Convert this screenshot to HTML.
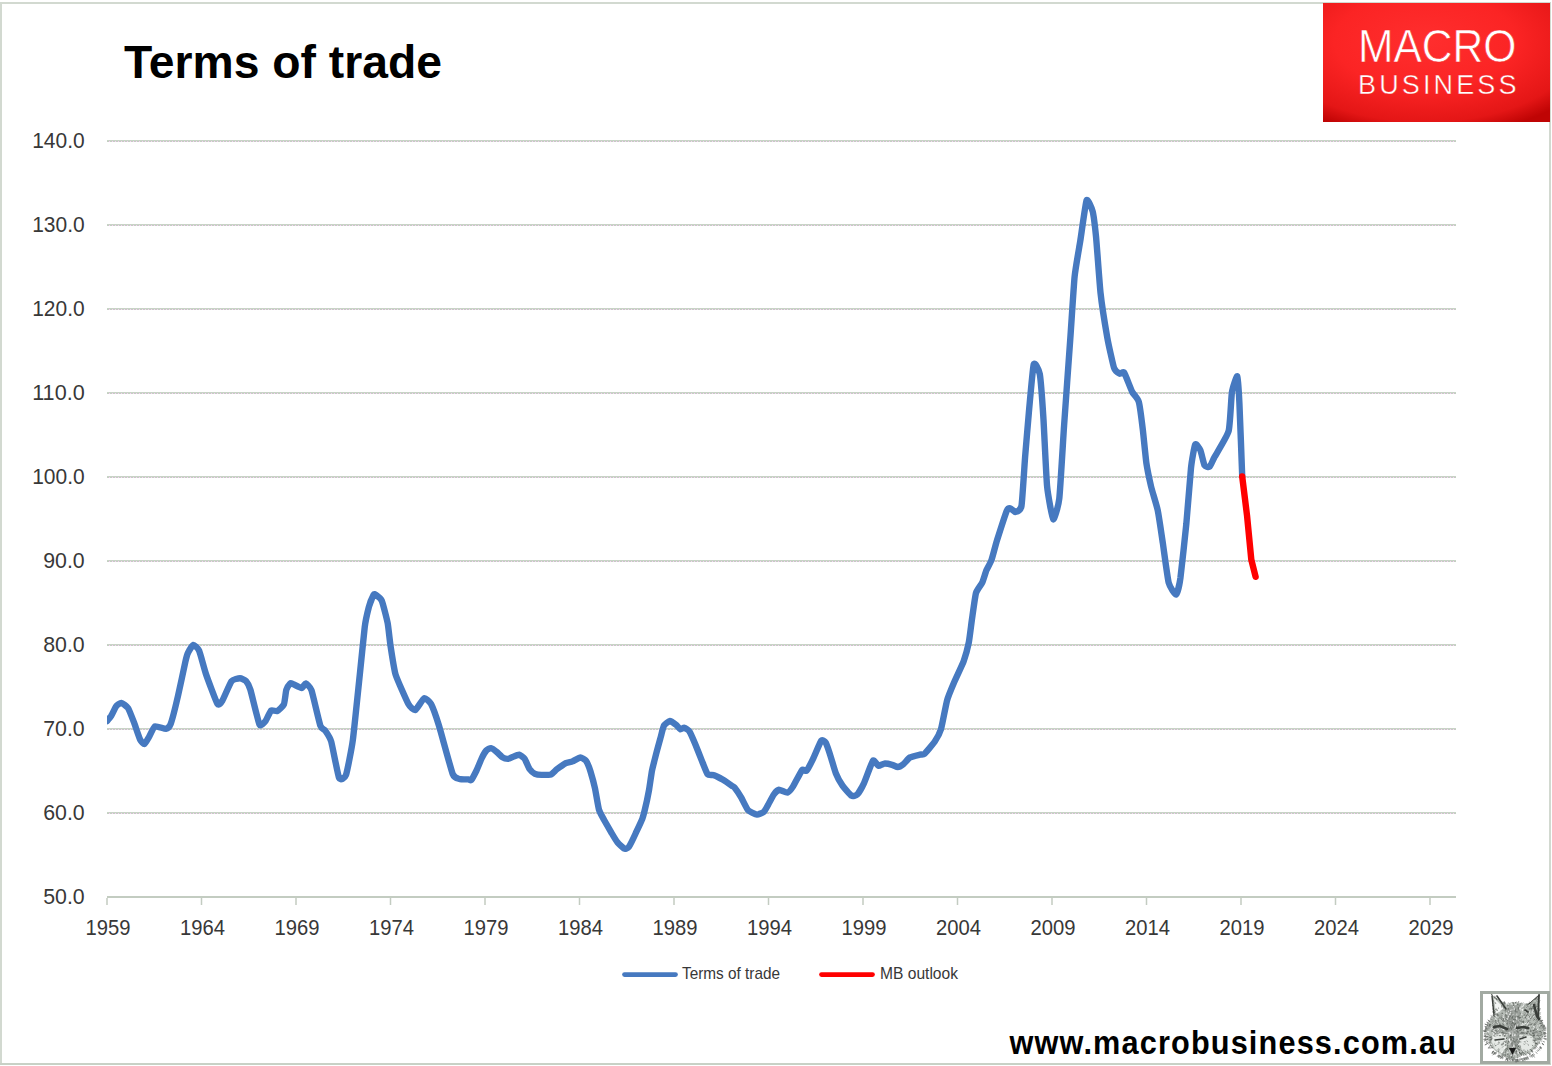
<!DOCTYPE html>
<html><head><meta charset="utf-8"><style>
html,body{margin:0;padding:0;background:#fff;}
svg{display:block;}
.ax{font-family:"Liberation Sans",sans-serif;font-size:22px;fill:#383838;}
.lg{font-family:"Liberation Sans",sans-serif;font-size:17px;fill:#383838;}
.title{font-family:"Liberation Sans",sans-serif;font-size:47px;font-weight:bold;fill:#000;}
.foot{font-family:"Liberation Sans",sans-serif;font-size:33px;font-weight:bold;fill:#000;}
.logo{font-family:"Liberation Sans",sans-serif;fill:#fff;}
</style></head><body>
<svg width="1552" height="1066" viewBox="0 0 1552 1066">
<g shape-rendering="crispEdges"><rect x="0" y="2" width="1551" height="2" fill="#d2d9d0"/><rect x="0" y="2" width="2" height="1063" fill="#d2d9d0"/><rect x="1549" y="2" width="2" height="1063" fill="#d2d9d0"/><rect x="0" y="1063" width="1551" height="2" fill="#c8d1c6"/></g>
<defs><pattern id="gp" x="1" y="0" width="3" height="1" patternUnits="userSpaceOnUse"><rect x="0" y="0" width="1" height="1" fill="#f7d0f5"/><rect x="1" y="0" width="2" height="1" fill="#c4cfc2"/></pattern></defs>
<rect x="107" y="140" width="1349" height="1" fill="#c9d3c7" shape-rendering="crispEdges"/>
<rect x="107" y="141" width="1349" height="1" fill="url(#gp)" shape-rendering="crispEdges"/>
<rect x="107" y="224" width="1349" height="1" fill="#c9d3c7" shape-rendering="crispEdges"/>
<rect x="107" y="225" width="1349" height="1" fill="url(#gp)" shape-rendering="crispEdges"/>
<rect x="107" y="308" width="1349" height="1" fill="#c9d3c7" shape-rendering="crispEdges"/>
<rect x="107" y="309" width="1349" height="1" fill="url(#gp)" shape-rendering="crispEdges"/>
<rect x="107" y="392" width="1349" height="1" fill="#c9d3c7" shape-rendering="crispEdges"/>
<rect x="107" y="393" width="1349" height="1" fill="url(#gp)" shape-rendering="crispEdges"/>
<rect x="107" y="476" width="1349" height="1" fill="#c9d3c7" shape-rendering="crispEdges"/>
<rect x="107" y="477" width="1349" height="1" fill="url(#gp)" shape-rendering="crispEdges"/>
<rect x="107" y="560" width="1349" height="1" fill="#c9d3c7" shape-rendering="crispEdges"/>
<rect x="107" y="561" width="1349" height="1" fill="url(#gp)" shape-rendering="crispEdges"/>
<rect x="107" y="644" width="1349" height="1" fill="#c9d3c7" shape-rendering="crispEdges"/>
<rect x="107" y="645" width="1349" height="1" fill="url(#gp)" shape-rendering="crispEdges"/>
<rect x="107" y="728" width="1349" height="1" fill="#c9d3c7" shape-rendering="crispEdges"/>
<rect x="107" y="729" width="1349" height="1" fill="url(#gp)" shape-rendering="crispEdges"/>
<rect x="107" y="812" width="1349" height="1" fill="#c9d3c7" shape-rendering="crispEdges"/>
<rect x="107" y="813" width="1349" height="1" fill="url(#gp)" shape-rendering="crispEdges"/>
<rect x="107" y="896" width="1349" height="2" fill="#c3ccc1"/>
<rect x="106.25" y="898" width="1.5" height="7" fill="#c3ccc1"/>
<rect x="200.75" y="898" width="1.5" height="7" fill="#c3ccc1"/>
<rect x="295.25" y="898" width="1.5" height="7" fill="#c3ccc1"/>
<rect x="389.75" y="898" width="1.5" height="7" fill="#c3ccc1"/>
<rect x="484.25" y="898" width="1.5" height="7" fill="#c3ccc1"/>
<rect x="578.75" y="898" width="1.5" height="7" fill="#c3ccc1"/>
<rect x="673.25" y="898" width="1.5" height="7" fill="#c3ccc1"/>
<rect x="767.75" y="898" width="1.5" height="7" fill="#c3ccc1"/>
<rect x="862.25" y="898" width="1.5" height="7" fill="#c3ccc1"/>
<rect x="956.75" y="898" width="1.5" height="7" fill="#c3ccc1"/>
<rect x="1051.25" y="898" width="1.5" height="7" fill="#c3ccc1"/>
<rect x="1145.75" y="898" width="1.5" height="7" fill="#c3ccc1"/>
<rect x="1240.25" y="898" width="1.5" height="7" fill="#c3ccc1"/>
<rect x="1334.75" y="898" width="1.5" height="7" fill="#c3ccc1"/>
<rect x="1429.25" y="898" width="1.5" height="7" fill="#c3ccc1"/>
<text x="84.7" y="148" text-anchor="end" class="ax" textLength="52.5" lengthAdjust="spacingAndGlyphs">140.0</text>
<text x="84.7" y="232" text-anchor="end" class="ax" textLength="52.5" lengthAdjust="spacingAndGlyphs">130.0</text>
<text x="84.7" y="316" text-anchor="end" class="ax" textLength="52.5" lengthAdjust="spacingAndGlyphs">120.0</text>
<text x="84.7" y="400" text-anchor="end" class="ax" textLength="52.5" lengthAdjust="spacingAndGlyphs">110.0</text>
<text x="84.7" y="484" text-anchor="end" class="ax" textLength="52.5" lengthAdjust="spacingAndGlyphs">100.0</text>
<text x="84.7" y="568" text-anchor="end" class="ax" textLength="41.5" lengthAdjust="spacingAndGlyphs">90.0</text>
<text x="84.7" y="652" text-anchor="end" class="ax" textLength="41.5" lengthAdjust="spacingAndGlyphs">80.0</text>
<text x="84.7" y="736" text-anchor="end" class="ax" textLength="41.5" lengthAdjust="spacingAndGlyphs">70.0</text>
<text x="84.7" y="820" text-anchor="end" class="ax" textLength="41.5" lengthAdjust="spacingAndGlyphs">60.0</text>
<text x="84.7" y="904" text-anchor="end" class="ax" textLength="41.5" lengthAdjust="spacingAndGlyphs">50.0</text>
<text x="108.0" y="935" text-anchor="middle" class="ax" textLength="45" lengthAdjust="spacingAndGlyphs">1959</text>
<text x="202.5" y="935" text-anchor="middle" class="ax" textLength="45" lengthAdjust="spacingAndGlyphs">1964</text>
<text x="297.0" y="935" text-anchor="middle" class="ax" textLength="45" lengthAdjust="spacingAndGlyphs">1969</text>
<text x="391.5" y="935" text-anchor="middle" class="ax" textLength="45" lengthAdjust="spacingAndGlyphs">1974</text>
<text x="486.0" y="935" text-anchor="middle" class="ax" textLength="45" lengthAdjust="spacingAndGlyphs">1979</text>
<text x="580.5" y="935" text-anchor="middle" class="ax" textLength="45" lengthAdjust="spacingAndGlyphs">1984</text>
<text x="675.0" y="935" text-anchor="middle" class="ax" textLength="45" lengthAdjust="spacingAndGlyphs">1989</text>
<text x="769.5" y="935" text-anchor="middle" class="ax" textLength="45" lengthAdjust="spacingAndGlyphs">1994</text>
<text x="864.0" y="935" text-anchor="middle" class="ax" textLength="45" lengthAdjust="spacingAndGlyphs">1999</text>
<text x="958.5" y="935" text-anchor="middle" class="ax" textLength="45" lengthAdjust="spacingAndGlyphs">2004</text>
<text x="1053.0" y="935" text-anchor="middle" class="ax" textLength="45" lengthAdjust="spacingAndGlyphs">2009</text>
<text x="1147.5" y="935" text-anchor="middle" class="ax" textLength="45" lengthAdjust="spacingAndGlyphs">2014</text>
<text x="1242.0" y="935" text-anchor="middle" class="ax" textLength="45" lengthAdjust="spacingAndGlyphs">2019</text>
<text x="1336.5" y="935" text-anchor="middle" class="ax" textLength="45" lengthAdjust="spacingAndGlyphs">2024</text>
<text x="1431.0" y="935" text-anchor="middle" class="ax" textLength="45" lengthAdjust="spacingAndGlyphs">2029</text>
<defs><clipPath id="pa"><rect x="107" y="100" width="1349" height="797"/></clipPath></defs>
<g clip-path="url(#pa)"><path d="M107.1,721.0 C107.4,720.6 110.5,716.9 111.3,715.7 C112.0,714.5 115.3,707.5 116.1,706.4 C116.9,705.3 120.3,702.8 121.3,702.9 C122.3,703.0 126.9,706.4 128.0,708.0 C129.1,709.6 133.1,720.1 134.1,722.7 C135.1,725.4 139.3,738.0 140.2,739.8 C141.1,741.6 143.8,744.2 144.5,744.0 C145.2,743.8 147.9,738.8 148.8,737.3 C149.7,735.8 153.5,727.0 154.9,726.3 C156.3,725.6 164.6,729.0 165.9,728.8 C167.2,728.6 169.7,726.6 170.7,723.9 C171.7,721.2 176.8,701.1 178.0,695.9 C179.2,690.7 184.6,665.3 185.4,661.7 C186.2,658.1 187.1,654.6 187.8,653.2 C188.5,651.8 192.4,645.1 193.3,644.9 C194.2,644.7 198.0,648.3 199.1,650.7 C200.2,653.1 204.4,669.5 205.9,673.9 C207.4,678.3 216.0,701.6 217.4,703.8 C218.8,706.0 221.1,702.6 222.3,700.7 C223.5,698.8 230.0,683.1 231.5,681.2 C233.0,679.3 238.8,678.2 240.0,678.2 C241.2,678.2 245.2,680.2 246.1,681.2 C247.0,682.2 249.3,686.2 250.4,689.8 C251.5,693.4 258.2,721.9 259.5,724.5 C260.8,727.1 264.6,722.1 265.6,720.9 C266.6,719.7 270.1,711.3 271.1,710.5 C272.1,709.7 276.1,711.6 277.2,711.1 C278.3,710.6 283.1,706.2 283.9,704.4 C284.7,702.6 285.8,691.5 286.3,689.8 C286.8,688.1 289.5,684.2 290.0,683.7 C290.5,683.2 290.8,683.0 291.8,683.4 C292.8,683.8 300.6,688.0 301.7,688.0 C302.8,688.0 304.8,683.2 305.6,683.4 C306.4,683.6 310.3,686.8 311.5,690.3 C312.7,693.8 319.2,722.4 320.4,725.8 C321.5,729.2 324.4,729.4 325.3,730.7 C326.2,732.0 330.1,737.6 331.2,741.5 C332.3,745.4 337.9,775.2 339.1,778.0 C340.3,780.8 344.9,778.2 346.0,775.0 C347.1,771.8 351.8,748.0 352.9,739.6 C354.0,731.2 358.8,684.0 359.8,674.6 C360.8,665.2 364.0,632.9 364.7,627.3 C365.4,621.7 368.0,610.3 368.7,607.6 C369.4,604.9 373.0,595.9 373.6,594.8 C374.2,593.7 375.2,594.3 375.9,594.8 C376.6,595.3 380.8,598.3 381.8,600.7 C382.8,603.1 387.0,619.4 387.7,623.3 C388.4,627.2 390.0,642.7 390.7,647.0 C391.4,651.3 394.1,669.8 395.6,674.6 C397.1,679.4 406.8,701.1 408.4,704.1 C410.0,707.1 414.0,710.5 415.3,710.0 C416.6,709.5 422.9,698.7 424.2,698.2 C425.5,697.7 429.9,701.8 431.1,704.1 C432.3,706.4 437.2,720.0 439.0,725.8 C440.8,731.6 451.0,769.6 452.7,774.0 C454.4,778.4 458.3,778.5 459.6,779.0 C460.9,779.5 467.5,779.3 468.5,779.4 C469.5,779.5 470.6,780.7 471.3,780.0 C472.0,779.3 475.5,772.5 476.4,770.7 C477.3,768.9 480.8,760.2 481.6,758.5 C482.4,756.8 485.5,751.4 486.3,750.5 C487.1,749.6 490.1,748.0 491.0,748.1 C491.9,748.2 495.7,751.1 496.6,751.9 C497.5,752.6 501.3,756.5 502.2,757.1 C503.1,757.7 506.9,758.9 507.8,758.9 C508.7,758.9 512.6,757.0 513.5,756.6 C514.4,756.2 518.2,754.5 519.1,754.7 C520.0,754.9 523.8,757.7 524.7,758.9 C525.6,760.1 528.5,767.5 529.4,768.8 C530.3,770.0 534.0,773.4 535.0,773.9 C536.0,774.4 540.3,774.9 541.6,774.9 C542.9,774.9 549.7,774.9 551.0,774.4 C552.3,773.9 555.6,770.2 556.8,769.3 C558.0,768.4 564.5,763.8 565.8,763.1 C567.1,762.4 571.3,761.9 572.5,761.4 C573.7,760.9 579.3,757.5 580.4,757.5 C581.5,757.5 585.2,759.6 586.0,760.8 C586.8,762.0 589.8,769.2 590.5,771.5 C591.2,773.8 594.3,785.2 595.0,788.4 C595.7,791.6 598.2,807.2 599.0,809.8 C599.8,812.4 603.0,818.0 604.1,820.0 C605.2,822.0 610.8,831.6 611.9,833.5 C613.0,835.4 616.6,841.2 617.6,842.5 C618.6,843.8 623.4,848.3 624.3,848.7 C625.2,849.1 627.9,848.3 628.8,847.0 C629.7,845.7 634.5,835.9 635.6,833.5 C636.7,831.1 641.6,820.7 642.3,818.8 C643.0,816.9 643.9,813.5 644.5,811.1 C645.1,808.7 648.4,793.5 649.0,790.1 C649.6,786.7 651.4,773.7 652.0,770.6 C652.6,767.5 655.8,755.5 656.5,752.6 C657.2,749.7 660.4,738.3 661.0,736.0 C661.6,733.7 663.2,726.8 664.0,725.5 C664.8,724.2 669.0,721.1 670.0,721.0 C671.0,720.9 675.1,724.1 676.0,724.8 C676.9,725.5 679.8,729.0 680.5,729.3 C681.2,729.5 683.5,727.6 684.3,727.8 C685.0,728.0 688.6,730.1 689.5,731.5 C690.4,732.9 694.6,742.6 695.6,745.0 C696.6,747.4 700.6,757.7 701.6,760.1 C702.6,762.5 706.6,773.0 707.6,774.3 C708.6,775.5 712.4,774.7 713.6,775.1 C714.9,775.5 721.1,778.7 722.6,779.6 C724.1,780.5 730.6,784.9 731.6,785.6 C732.6,786.3 733.7,786.6 734.5,787.6 C735.3,788.6 740.2,795.8 741.3,797.7 C742.4,799.6 746.7,808.7 748.0,810.1 C749.3,811.5 755.7,814.5 757.0,814.6 C758.3,814.7 762.9,812.6 763.8,811.8 C764.7,811.0 767.5,806.0 768.3,804.5 C769.1,803.0 773.0,795.5 773.9,794.3 C774.8,793.1 777.9,789.9 779.0,789.8 C780.1,789.7 786.2,792.9 787.4,792.6 C788.6,792.3 791.9,788.3 793.1,786.4 C794.3,784.5 801.0,771.4 802.1,770.1 C803.2,768.8 805.7,771.7 806.6,770.7 C807.5,769.7 812.1,760.8 813.3,758.3 C814.5,755.8 820.2,742.1 821.2,740.8 C822.2,739.5 824.9,741.0 825.7,742.5 C826.5,744.0 830.5,756.0 831.3,758.6 C832.1,761.2 834.9,771.0 835.8,773.2 C836.7,775.5 841.2,783.7 842.5,785.6 C843.8,787.5 850.3,795.0 851.5,795.7 C852.7,796.5 856.2,795.6 857.2,794.6 C858.2,793.6 862.6,786.1 863.9,783.3 C865.2,780.5 871.7,762.2 872.9,760.8 C874.1,759.3 877.7,765.7 878.6,765.9 C879.5,766.1 883.1,763.7 884.2,763.6 C885.3,763.5 891.0,764.5 892.1,764.8 C893.2,765.1 896.8,767.0 897.7,767.0 C898.6,767.0 902.3,765.0 903.3,764.2 C904.3,763.4 908.7,758.2 910.1,757.4 C911.5,756.6 918.8,754.9 920.0,754.6 C921.2,754.3 923.2,755.1 924.4,754.0 C925.6,752.9 933.4,743.7 934.8,741.6 C936.2,739.5 940.0,732.6 941.0,729.2 C942.0,725.8 946.0,704.3 947.1,700.3 C948.2,696.3 953.0,685.0 954.4,681.7 C955.8,678.4 962.5,664.4 963.7,661.1 C964.9,657.8 968.1,645.9 968.8,642.5 C969.5,639.1 971.3,623.9 971.9,619.8 C972.5,615.7 975.1,596.1 976.0,593.0 C976.9,589.9 981.3,584.6 982.2,582.7 C983.1,580.8 985.6,572.2 986.4,570.3 C987.2,568.4 990.6,562.5 991.5,560.0 C992.4,557.5 995.8,544.1 997.1,540.0 C998.4,535.9 1005.7,513.3 1006.8,510.7 C1007.9,508.1 1009.8,508.2 1010.5,508.3 C1011.2,508.4 1014.5,512.2 1015.4,512.0 C1016.3,511.8 1020.7,510.5 1021.5,505.9 C1022.3,501.3 1024.5,464.8 1025.1,457.1 C1025.7,449.4 1028.1,420.9 1028.8,413.2 C1029.5,405.5 1032.8,367.7 1033.7,364.4 C1034.6,361.1 1039.0,369.6 1039.8,374.1 C1040.6,378.6 1042.8,408.6 1043.4,418.0 C1044.0,427.4 1046.3,477.9 1047.1,486.3 C1047.9,494.7 1052.2,518.3 1053.2,519.3 C1054.2,520.3 1058.4,506.3 1059.3,498.5 C1060.2,490.7 1063.2,438.6 1064.1,425.4 C1065.0,412.2 1069.3,352.4 1070.2,340.0 C1071.1,327.6 1073.8,285.1 1074.6,276.8 C1075.4,268.5 1079.3,247.2 1080.3,240.8 C1081.3,234.4 1085.6,202.7 1086.6,200.3 C1087.6,197.9 1091.9,208.5 1092.7,211.5 C1093.5,214.5 1095.3,229.5 1096.0,236.3 C1096.7,243.1 1099.6,284.2 1100.5,292.6 C1101.4,301.1 1106.2,331.4 1107.3,337.7 C1108.4,344.0 1113.1,365.1 1114.1,368.1 C1115.1,371.1 1118.9,373.3 1119.7,373.7 C1120.5,374.1 1123.2,371.1 1124.2,372.6 C1125.2,374.1 1130.9,389.3 1132.1,391.7 C1133.3,394.1 1137.9,398.6 1138.8,401.8 C1139.7,405.0 1142.3,425.3 1142.9,430.4 C1143.5,435.5 1145.7,458.5 1146.4,463.2 C1147.1,467.9 1150.2,482.7 1151.1,486.6 C1152.0,490.5 1156.7,505.4 1157.7,510.1 C1158.7,514.8 1161.9,536.8 1162.8,542.9 C1163.7,549.0 1167.6,578.5 1168.7,582.8 C1169.8,587.1 1175.2,594.9 1176.2,594.5 C1177.2,594.1 1179.6,584.0 1180.4,578.1 C1181.2,572.2 1185.4,533.4 1186.3,524.2 C1187.2,515.0 1190.3,474.5 1191.0,467.9 C1191.7,461.2 1194.4,445.9 1195.2,444.4 C1196.0,442.9 1199.6,448.5 1200.4,450.3 C1201.2,452.1 1203.8,464.1 1204.6,465.5 C1205.4,466.9 1208.9,467.4 1209.7,466.7 C1210.5,466.0 1212.8,460.3 1214.4,457.3 C1216.0,454.3 1227.1,436.6 1228.6,431.2 C1230.1,425.8 1231.2,397.0 1231.9,392.4 C1232.6,387.8 1236.7,375.3 1237.3,376.2 C1237.9,377.1 1239.0,394.8 1239.4,403.1 C1239.8,411.4 1242.0,469.9 1242.2,476.0" fill="none" stroke="#4679c0" stroke-width="6.4" stroke-linejoin="round" stroke-linecap="round"/>
<path d="M1242.2,476.5 L1247.0,515.3 L1251.3,559.6 L1255.6,576.8" fill="none" stroke="#ff0000" stroke-width="6.4" stroke-linejoin="round" stroke-linecap="round"/></g>
<line x1="624.5" y1="974.5" x2="675.5" y2="974.5" stroke="#4679c0" stroke-width="4.75" stroke-linecap="round"/>
<text x="682" y="979" class="lg" textLength="98" lengthAdjust="spacingAndGlyphs">Terms of trade</text>
<line x1="821.5" y1="974.5" x2="872.5" y2="974.5" stroke="#ff0000" stroke-width="4.75" stroke-linecap="round"/>
<text x="880" y="979" class="lg" textLength="78" lengthAdjust="spacingAndGlyphs">MB outlook</text>
<text x="124" y="77.5" class="title" textLength="318" lengthAdjust="spacingAndGlyphs">Terms of trade</text>
<defs>
<radialGradient id="rg" cx="0.45" cy="0.32" r="0.8">
<stop offset="0" stop-color="#ff2e2e"/>
<stop offset="0.5" stop-color="#fb2424"/>
<stop offset="0.85" stop-color="#e41616"/>
<stop offset="1" stop-color="#bf0404"/>
</radialGradient></defs>
<rect x="1323" y="3" width="227" height="119" fill="url(#rg)"/>
<text x="1358" y="62" class="logo" font-size="46" textLength="158.5" lengthAdjust="spacingAndGlyphs" stroke="#f72626" stroke-width="0.6">MACRO</text>
<text x="1358" y="94" class="logo" font-size="27" textLength="158.5" lengthAdjust="spacing" stroke="#ee2020" stroke-width="0.4">BUSINESS</text>
<g transform="translate(1009.5,1053.5) scale(0.93,1)"><text x="0" y="0" class="foot" textLength="480" lengthAdjust="spacing">www.macrobusiness.com.au</text></g>
<rect x="1481.5" y="992.5" width="67" height="70" fill="#fff" stroke="#a2aaa2" stroke-width="3"/>
<g transform="translate(1482,992)">
<path d="M10,3 L12,23 L7,29 L2,39 L5,46 L9,55 L17,62 L25,66 L31,68 L38,64 L48,61 L56,53 L62,43 L63,34 L58,27 L57,3 L46,12 L40,11 L30,10 L24,12 Z" fill="#b6bcb6"/>
<path d="M25,13 L38,13 L38,38 L35,57 L28,57 L25,38 Z" fill="#8f958f" opacity="0.6"/>
<path d="M12,6 L22,16 L14,22 Z" fill="#f2f4f2"/>
<path d="M11,42 L23,41 L25,54 L20,61 L13,57 L9,48 Z" fill="#e4e8e4"/>
<path d="M39,43 L50,44 L53,52 L47,59 L41,60 L37,52 Z" fill="#e4e8e4"/>
<line x1="4.8" y1="38.4" x2="3.7" y2="38.4" stroke="#8e938e" stroke-width="0.7"/><line x1="15.9" y1="39.5" x2="14.1" y2="40.0" stroke="#656a65" stroke-width="0.7"/><line x1="41.6" y1="41.6" x2="43.3" y2="40.8" stroke="#4f544f" stroke-width="0.7"/><line x1="56.7" y1="21.7" x2="57.3" y2="20.7" stroke="#7c817c" stroke-width="0.7"/><line x1="37.0" y1="48.4" x2="37.4" y2="50.2" stroke="#656a65" stroke-width="0.7"/><line x1="24.6" y1="39.2" x2="23.5" y2="39.3" stroke="#656a65" stroke-width="0.7"/><line x1="32.8" y1="38.2" x2="32.5" y2="39.9" stroke="#ffffff" stroke-width="0.7"/><line x1="23.9" y1="18.9" x2="22.5" y2="17.1" stroke="#4f544f" stroke-width="0.7"/><line x1="37.9" y1="37.7" x2="40.0" y2="37.2" stroke="#7c817c" stroke-width="0.7"/><line x1="33.8" y1="13.2" x2="33.5" y2="10.7" stroke="#ffffff" stroke-width="0.7"/><line x1="50.5" y1="41.0" x2="51.9" y2="41.4" stroke="#7c817c" stroke-width="0.7"/><line x1="39.2" y1="41.4" x2="41.6" y2="41.1" stroke="#7c817c" stroke-width="0.7"/><line x1="31.3" y1="47.2" x2="31.8" y2="49.2" stroke="#8e938e" stroke-width="0.7"/><line x1="18.8" y1="28.2" x2="18.2" y2="27.4" stroke="#ffffff" stroke-width="0.7"/><line x1="23.5" y1="43.5" x2="22.1" y2="43.8" stroke="#7c817c" stroke-width="0.7"/><line x1="25.8" y1="61.3" x2="26.0" y2="63.0" stroke="#8e938e" stroke-width="0.7"/><line x1="36.3" y1="50.0" x2="35.7" y2="52.0" stroke="#ffffff" stroke-width="0.7"/><line x1="11.6" y1="17.8" x2="10.2" y2="16.8" stroke="#8e938e" stroke-width="0.7"/><line x1="12.0" y1="21.2" x2="10.4" y2="20.4" stroke="#8e938e" stroke-width="0.7"/><line x1="45.6" y1="37.1" x2="47.6" y2="36.6" stroke="#4f544f" stroke-width="0.7"/><line x1="30.1" y1="61.2" x2="29.0" y2="63.0" stroke="#8e938e" stroke-width="0.7"/><line x1="25.9" y1="29.1" x2="24.4" y2="27.8" stroke="#4f544f" stroke-width="0.7"/><line x1="37.4" y1="38.5" x2="39.4" y2="38.2" stroke="#4f544f" stroke-width="0.7"/><line x1="57.7" y1="43.8" x2="59.1" y2="43.4" stroke="#7c817c" stroke-width="0.7"/><line x1="39.8" y1="34.2" x2="40.4" y2="32.6" stroke="#ffffff" stroke-width="0.7"/><line x1="31.7" y1="23.2" x2="32.2" y2="25.4" stroke="#7c817c" stroke-width="0.7"/><line x1="31.6" y1="49.1" x2="31.6" y2="50.4" stroke="#8e938e" stroke-width="0.7"/><line x1="23.9" y1="48.9" x2="21.8" y2="49.6" stroke="#7c817c" stroke-width="0.7"/><line x1="45.9" y1="19.8" x2="46.5" y2="18.6" stroke="#656a65" stroke-width="0.7"/><line x1="35.2" y1="55.0" x2="35.3" y2="56.3" stroke="#656a65" stroke-width="0.7"/><line x1="48.8" y1="17.4" x2="49.7" y2="16.1" stroke="#4f544f" stroke-width="0.7"/><line x1="31.2" y1="15.2" x2="31.1" y2="16.7" stroke="#7c817c" stroke-width="0.7"/><line x1="13.5" y1="44.4" x2="11.8" y2="44.1" stroke="#7c817c" stroke-width="0.7"/><line x1="52.8" y1="7.8" x2="54.4" y2="5.9" stroke="#656a65" stroke-width="0.7"/><line x1="31.6" y1="14.1" x2="31.3" y2="15.6" stroke="#ffffff" stroke-width="0.7"/><line x1="30.6" y1="52.5" x2="30.9" y2="53.8" stroke="#656a65" stroke-width="0.7"/><line x1="30.7" y1="46.6" x2="30.6" y2="48.5" stroke="#ffffff" stroke-width="0.7"/><line x1="43.4" y1="25.8" x2="44.1" y2="24.9" stroke="#4f544f" stroke-width="0.7"/><line x1="52.8" y1="51.4" x2="55.0" y2="51.5" stroke="#656a65" stroke-width="0.7"/><line x1="28.6" y1="61.3" x2="28.0" y2="62.5" stroke="#7c817c" stroke-width="0.7"/><line x1="14.0" y1="36.1" x2="12.8" y2="35.2" stroke="#8e938e" stroke-width="0.7"/><line x1="27.7" y1="10.9" x2="28.1" y2="9.4" stroke="#ffffff" stroke-width="0.7"/><line x1="33.7" y1="61.4" x2="33.3" y2="63.3" stroke="#656a65" stroke-width="0.7"/><line x1="11.4" y1="34.2" x2="9.8" y2="33.2" stroke="#7c817c" stroke-width="0.7"/><line x1="45.0" y1="38.1" x2="47.2" y2="37.4" stroke="#8e938e" stroke-width="0.7"/><line x1="40.0" y1="15.6" x2="40.1" y2="13.8" stroke="#ffffff" stroke-width="0.7"/><line x1="33.5" y1="18.8" x2="33.5" y2="21.2" stroke="#7c817c" stroke-width="0.7"/><line x1="13.4" y1="32.4" x2="11.9" y2="31.8" stroke="#7c817c" stroke-width="0.7"/><line x1="54.9" y1="13.0" x2="56.0" y2="11.5" stroke="#7c817c" stroke-width="0.7"/><line x1="27.8" y1="26.2" x2="28.2" y2="27.8" stroke="#7c817c" stroke-width="0.7"/><line x1="36.6" y1="32.0" x2="37.0" y2="33.4" stroke="#8e938e" stroke-width="0.7"/><line x1="49.9" y1="57.7" x2="50.9" y2="59.6" stroke="#7c817c" stroke-width="0.7"/><line x1="26.8" y1="38.5" x2="26.8" y2="40.3" stroke="#7c817c" stroke-width="0.7"/><line x1="45.4" y1="30.9" x2="46.5" y2="28.7" stroke="#4f544f" stroke-width="0.7"/><line x1="52.9" y1="7.7" x2="53.8" y2="7.0" stroke="#4f544f" stroke-width="0.7"/><line x1="29.9" y1="25.1" x2="29.9" y2="27.5" stroke="#7c817c" stroke-width="0.7"/><line x1="41.5" y1="38.1" x2="42.8" y2="37.0" stroke="#656a65" stroke-width="0.7"/><line x1="17.9" y1="56.7" x2="17.5" y2="57.6" stroke="#8e938e" stroke-width="0.7"/><line x1="36.4" y1="14.9" x2="36.4" y2="17.4" stroke="#4f544f" stroke-width="0.7"/><line x1="36.0" y1="62.4" x2="35.6" y2="63.9" stroke="#656a65" stroke-width="0.7"/><line x1="54.9" y1="50.1" x2="56.4" y2="50.8" stroke="#7c817c" stroke-width="0.7"/><line x1="58.1" y1="31.3" x2="59.5" y2="29.8" stroke="#ffffff" stroke-width="0.7"/><line x1="57.5" y1="47.6" x2="58.8" y2="47.6" stroke="#7c817c" stroke-width="0.7"/><line x1="24.0" y1="24.4" x2="24.1" y2="22.9" stroke="#4f544f" stroke-width="0.7"/><line x1="25.2" y1="34.3" x2="24.3" y2="33.3" stroke="#8e938e" stroke-width="0.7"/><line x1="51.2" y1="8.2" x2="52.1" y2="7.4" stroke="#8e938e" stroke-width="0.7"/><line x1="34.9" y1="53.0" x2="34.7" y2="55.2" stroke="#8e938e" stroke-width="0.7"/><line x1="25.7" y1="24.2" x2="25.9" y2="23.0" stroke="#8e938e" stroke-width="0.7"/><line x1="41.4" y1="51.9" x2="43.1" y2="52.7" stroke="#8e938e" stroke-width="0.7"/><line x1="37.5" y1="57.3" x2="39.1" y2="58.7" stroke="#656a65" stroke-width="0.7"/><line x1="24.9" y1="32.7" x2="23.9" y2="32.2" stroke="#8e938e" stroke-width="0.7"/><line x1="44.9" y1="35.3" x2="46.2" y2="33.4" stroke="#8e938e" stroke-width="0.7"/><line x1="34.7" y1="52.7" x2="34.8" y2="55.0" stroke="#7c817c" stroke-width="0.7"/><line x1="42.9" y1="33.3" x2="44.0" y2="32.9" stroke="#7c817c" stroke-width="0.7"/><line x1="50.6" y1="44.0" x2="51.7" y2="44.2" stroke="#656a65" stroke-width="0.7"/><line x1="31.8" y1="35.0" x2="31.5" y2="36.1" stroke="#656a65" stroke-width="0.7"/><line x1="44.6" y1="21.8" x2="45.5" y2="20.3" stroke="#ffffff" stroke-width="0.7"/><line x1="36.2" y1="23.2" x2="36.7" y2="24.9" stroke="#7c817c" stroke-width="0.7"/><line x1="30.3" y1="57.8" x2="29.4" y2="59.2" stroke="#7c817c" stroke-width="0.7"/><line x1="25.5" y1="64.3" x2="24.8" y2="65.2" stroke="#4f544f" stroke-width="0.7"/><line x1="9.4" y1="37.6" x2="8.4" y2="36.9" stroke="#8e938e" stroke-width="0.7"/><line x1="32.9" y1="61.6" x2="33.0" y2="62.8" stroke="#ffffff" stroke-width="0.7"/><line x1="45.0" y1="29.6" x2="46.4" y2="28.7" stroke="#ffffff" stroke-width="0.7"/><line x1="20.9" y1="59.1" x2="20.7" y2="61.3" stroke="#ffffff" stroke-width="0.7"/><line x1="19.1" y1="27.3" x2="17.2" y2="25.6" stroke="#8e938e" stroke-width="0.7"/><line x1="20.8" y1="54.6" x2="20.2" y2="55.4" stroke="#ffffff" stroke-width="0.7"/><line x1="36.2" y1="50.9" x2="36.8" y2="53.0" stroke="#ffffff" stroke-width="0.7"/><line x1="40.6" y1="11.4" x2="41.7" y2="10.0" stroke="#8e938e" stroke-width="0.7"/><line x1="8.4" y1="34.1" x2="6.9" y2="33.9" stroke="#7c817c" stroke-width="0.7"/><line x1="26.8" y1="18.2" x2="26.8" y2="20.3" stroke="#4f544f" stroke-width="0.7"/><line x1="11.0" y1="13.0" x2="9.1" y2="11.5" stroke="#ffffff" stroke-width="0.7"/><line x1="36.3" y1="32.8" x2="36.5" y2="35.0" stroke="#ffffff" stroke-width="0.7"/><line x1="17.1" y1="40.7" x2="15.1" y2="39.7" stroke="#ffffff" stroke-width="0.7"/><line x1="25.3" y1="52.7" x2="24.9" y2="54.1" stroke="#4f544f" stroke-width="0.7"/><line x1="32.9" y1="41.1" x2="33.1" y2="43.1" stroke="#8e938e" stroke-width="0.7"/><line x1="41.6" y1="60.7" x2="42.5" y2="61.7" stroke="#656a65" stroke-width="0.7"/><line x1="25.4" y1="45.9" x2="24.1" y2="46.8" stroke="#4f544f" stroke-width="0.7"/><line x1="8.4" y1="30.9" x2="6.7" y2="29.4" stroke="#8e938e" stroke-width="0.7"/><line x1="34.8" y1="33.8" x2="34.9" y2="36.1" stroke="#656a65" stroke-width="0.7"/><line x1="10.2" y1="37.5" x2="7.9" y2="36.6" stroke="#ffffff" stroke-width="0.7"/><line x1="41.3" y1="37.9" x2="43.3" y2="36.9" stroke="#4f544f" stroke-width="0.7"/><line x1="4.6" y1="37.7" x2="3.1" y2="37.3" stroke="#656a65" stroke-width="0.7"/><line x1="18.4" y1="23.5" x2="18.0" y2="22.2" stroke="#8e938e" stroke-width="0.7"/><line x1="15.5" y1="18.8" x2="14.9" y2="17.4" stroke="#4f544f" stroke-width="0.7"/><line x1="15.0" y1="30.9" x2="13.4" y2="30.1" stroke="#7c817c" stroke-width="0.7"/><line x1="47.4" y1="26.6" x2="48.0" y2="25.9" stroke="#7c817c" stroke-width="0.7"/><line x1="48.8" y1="36.3" x2="50.9" y2="34.8" stroke="#7c817c" stroke-width="0.7"/><line x1="50.5" y1="15.2" x2="51.3" y2="14.0" stroke="#7c817c" stroke-width="0.7"/><line x1="7.2" y1="44.4" x2="4.8" y2="44.4" stroke="#ffffff" stroke-width="0.7"/><line x1="27.5" y1="47.2" x2="27.2" y2="48.4" stroke="#ffffff" stroke-width="0.7"/><line x1="39.3" y1="30.2" x2="40.2" y2="29.3" stroke="#ffffff" stroke-width="0.7"/><line x1="43.9" y1="27.7" x2="44.7" y2="26.5" stroke="#656a65" stroke-width="0.7"/><line x1="58.4" y1="40.2" x2="60.0" y2="40.5" stroke="#7c817c" stroke-width="0.7"/><line x1="54.3" y1="31.4" x2="55.4" y2="30.0" stroke="#7c817c" stroke-width="0.7"/><line x1="35.7" y1="32.4" x2="36.0" y2="34.5" stroke="#ffffff" stroke-width="0.7"/><line x1="53.6" y1="54.1" x2="54.6" y2="54.2" stroke="#4f544f" stroke-width="0.7"/><line x1="24.0" y1="24.8" x2="24.0" y2="23.7" stroke="#7c817c" stroke-width="0.7"/><line x1="47.6" y1="42.5" x2="50.0" y2="43.3" stroke="#4f544f" stroke-width="0.7"/><line x1="31.4" y1="67.1" x2="30.6" y2="68.5" stroke="#7c817c" stroke-width="0.7"/><line x1="8.8" y1="35.8" x2="6.3" y2="36.3" stroke="#7c817c" stroke-width="0.7"/><line x1="54.3" y1="54.6" x2="55.5" y2="55.4" stroke="#7c817c" stroke-width="0.7"/><line x1="30.4" y1="55.3" x2="30.3" y2="57.1" stroke="#ffffff" stroke-width="0.7"/><line x1="49.7" y1="18.8" x2="49.9" y2="17.8" stroke="#8e938e" stroke-width="0.7"/><line x1="35.9" y1="12.9" x2="36.0" y2="11.8" stroke="#4f544f" stroke-width="0.7"/><line x1="6.4" y1="35.9" x2="4.8" y2="35.2" stroke="#656a65" stroke-width="0.7"/><line x1="8.8" y1="33.3" x2="7.8" y2="32.4" stroke="#8e938e" stroke-width="0.7"/><line x1="55.9" y1="47.2" x2="58.2" y2="46.8" stroke="#7c817c" stroke-width="0.7"/><line x1="18.4" y1="20.2" x2="17.4" y2="19.2" stroke="#ffffff" stroke-width="0.7"/><line x1="58.4" y1="41.3" x2="60.0" y2="41.0" stroke="#656a65" stroke-width="0.7"/><line x1="33.5" y1="17.7" x2="33.1" y2="19.7" stroke="#4f544f" stroke-width="0.7"/><line x1="6.8" y1="34.3" x2="4.8" y2="32.9" stroke="#7c817c" stroke-width="0.7"/><line x1="57.2" y1="32.5" x2="59.0" y2="31.3" stroke="#4f544f" stroke-width="0.7"/><line x1="7.0" y1="42.5" x2="5.6" y2="42.4" stroke="#7c817c" stroke-width="0.7"/><line x1="27.0" y1="27.3" x2="26.9" y2="28.4" stroke="#4f544f" stroke-width="0.7"/><line x1="52.5" y1="39.3" x2="53.5" y2="38.6" stroke="#ffffff" stroke-width="0.7"/><line x1="43.8" y1="12.5" x2="44.7" y2="10.6" stroke="#ffffff" stroke-width="0.7"/><line x1="45.9" y1="29.9" x2="46.8" y2="28.7" stroke="#4f544f" stroke-width="0.7"/><line x1="20.6" y1="40.5" x2="18.9" y2="40.5" stroke="#7c817c" stroke-width="0.7"/><line x1="42.5" y1="28.6" x2="43.9" y2="26.5" stroke="#ffffff" stroke-width="0.7"/><line x1="59.5" y1="30.8" x2="61.2" y2="30.7" stroke="#7c817c" stroke-width="0.7"/><line x1="30.4" y1="13.1" x2="29.5" y2="11.4" stroke="#ffffff" stroke-width="0.7"/><line x1="5.9" y1="44.3" x2="4.1" y2="44.7" stroke="#656a65" stroke-width="0.7"/><line x1="23.0" y1="13.0" x2="22.3" y2="12.1" stroke="#ffffff" stroke-width="0.7"/><line x1="32.4" y1="56.7" x2="31.8" y2="57.9" stroke="#656a65" stroke-width="0.7"/><line x1="55.3" y1="5.0" x2="56.5" y2="4.1" stroke="#8e938e" stroke-width="0.7"/><line x1="59.7" y1="44.2" x2="60.8" y2="44.7" stroke="#656a65" stroke-width="0.7"/><line x1="41.0" y1="43.8" x2="42.7" y2="43.6" stroke="#8e938e" stroke-width="0.7"/><line x1="14.4" y1="29.2" x2="13.1" y2="28.2" stroke="#4f544f" stroke-width="0.7"/><line x1="53.8" y1="15.1" x2="55.9" y2="14.0" stroke="#4f544f" stroke-width="0.7"/><line x1="44.1" y1="24.0" x2="44.9" y2="22.5" stroke="#7c817c" stroke-width="0.7"/><line x1="42.8" y1="23.0" x2="43.3" y2="21.4" stroke="#7c817c" stroke-width="0.7"/><line x1="29.5" y1="31.8" x2="30.0" y2="33.7" stroke="#ffffff" stroke-width="0.7"/><line x1="30.7" y1="32.4" x2="30.5" y2="34.7" stroke="#656a65" stroke-width="0.7"/><line x1="53.5" y1="29.2" x2="54.4" y2="27.9" stroke="#7c817c" stroke-width="0.7"/><line x1="6.1" y1="32.1" x2="5.1" y2="31.7" stroke="#656a65" stroke-width="0.7"/><line x1="51.3" y1="36.8" x2="52.7" y2="35.6" stroke="#ffffff" stroke-width="0.7"/><line x1="4.4" y1="43.8" x2="3.2" y2="43.6" stroke="#656a65" stroke-width="0.7"/><line x1="10.9" y1="55.6" x2="9.8" y2="55.8" stroke="#7c817c" stroke-width="0.7"/><line x1="40.3" y1="19.2" x2="40.6" y2="17.2" stroke="#ffffff" stroke-width="0.7"/><line x1="9.5" y1="36.2" x2="8.4" y2="35.3" stroke="#7c817c" stroke-width="0.7"/><line x1="40.6" y1="18.1" x2="40.9" y2="16.9" stroke="#ffffff" stroke-width="0.7"/><line x1="35.0" y1="45.3" x2="35.2" y2="47.7" stroke="#8e938e" stroke-width="0.7"/><line x1="34.4" y1="48.8" x2="34.1" y2="50.2" stroke="#8e938e" stroke-width="0.7"/><line x1="41.6" y1="28.8" x2="42.7" y2="28.0" stroke="#7c817c" stroke-width="0.7"/><line x1="38.1" y1="26.5" x2="39.1" y2="25.1" stroke="#656a65" stroke-width="0.7"/><line x1="19.6" y1="37.1" x2="17.1" y2="36.6" stroke="#8e938e" stroke-width="0.7"/><line x1="32.2" y1="43.7" x2="32.5" y2="44.7" stroke="#8e938e" stroke-width="0.7"/><line x1="23.6" y1="17.2" x2="23.1" y2="15.4" stroke="#656a65" stroke-width="0.7"/><line x1="24.2" y1="58.3" x2="24.1" y2="59.4" stroke="#656a65" stroke-width="0.7"/><line x1="46.7" y1="32.7" x2="47.4" y2="31.6" stroke="#7c817c" stroke-width="0.7"/><line x1="26.5" y1="20.0" x2="27.1" y2="21.9" stroke="#8e938e" stroke-width="0.7"/><line x1="58.9" y1="42.4" x2="60.9" y2="42.6" stroke="#8e938e" stroke-width="0.7"/><line x1="48.4" y1="18.9" x2="49.3" y2="18.3" stroke="#8e938e" stroke-width="0.7"/><line x1="6.9" y1="43.7" x2="5.6" y2="43.5" stroke="#ffffff" stroke-width="0.7"/><line x1="13.2" y1="43.3" x2="11.1" y2="43.5" stroke="#8e938e" stroke-width="0.7"/><line x1="55.7" y1="52.7" x2="57.8" y2="53.5" stroke="#ffffff" stroke-width="0.7"/><line x1="44.8" y1="48.6" x2="45.7" y2="49.8" stroke="#656a65" stroke-width="0.7"/><line x1="5.6" y1="36.5" x2="3.2" y2="36.8" stroke="#656a65" stroke-width="0.7"/><line x1="21.6" y1="61.9" x2="21.1" y2="63.2" stroke="#8e938e" stroke-width="0.7"/><line x1="31.0" y1="59.1" x2="30.4" y2="61.4" stroke="#ffffff" stroke-width="0.7"/><line x1="25.8" y1="41.8" x2="24.6" y2="41.7" stroke="#4f544f" stroke-width="0.7"/><line x1="41.8" y1="49.4" x2="43.7" y2="49.8" stroke="#7c817c" stroke-width="0.7"/><line x1="35.2" y1="47.2" x2="34.7" y2="49.3" stroke="#ffffff" stroke-width="0.7"/><line x1="50.0" y1="15.9" x2="50.7" y2="14.4" stroke="#4f544f" stroke-width="0.7"/><line x1="39.7" y1="34.4" x2="40.9" y2="32.5" stroke="#ffffff" stroke-width="0.7"/><line x1="6.5" y1="33.9" x2="4.6" y2="34.2" stroke="#4f544f" stroke-width="0.7"/><line x1="37.9" y1="21.5" x2="38.3" y2="19.7" stroke="#7c817c" stroke-width="0.7"/><line x1="32.4" y1="56.2" x2="33.0" y2="57.9" stroke="#7c817c" stroke-width="0.7"/><line x1="38.1" y1="12.8" x2="39.4" y2="10.6" stroke="#656a65" stroke-width="0.7"/><line x1="52.0" y1="49.4" x2="53.6" y2="50.6" stroke="#7c817c" stroke-width="0.7"/><line x1="27.9" y1="45.9" x2="28.0" y2="47.4" stroke="#ffffff" stroke-width="0.7"/><line x1="59.5" y1="36.1" x2="61.8" y2="35.3" stroke="#656a65" stroke-width="0.7"/><line x1="34.4" y1="61.0" x2="34.8" y2="62.9" stroke="#7c817c" stroke-width="0.7"/><line x1="11.2" y1="31.8" x2="9.8" y2="30.6" stroke="#656a65" stroke-width="0.7"/><line x1="33.5" y1="20.2" x2="33.2" y2="22.5" stroke="#8e938e" stroke-width="0.7"/><line x1="16.3" y1="24.2" x2="15.5" y2="23.2" stroke="#7c817c" stroke-width="0.7"/><line x1="19.9" y1="22.2" x2="19.1" y2="21.4" stroke="#4f544f" stroke-width="0.7"/><line x1="18.5" y1="62.2" x2="18.0" y2="63.1" stroke="#ffffff" stroke-width="0.7"/><line x1="45.8" y1="36.0" x2="47.4" y2="35.6" stroke="#656a65" stroke-width="0.7"/><line x1="16.0" y1="60.0" x2="14.4" y2="61.2" stroke="#ffffff" stroke-width="0.7"/><line x1="55.8" y1="47.4" x2="58.1" y2="48.3" stroke="#8e938e" stroke-width="0.7"/><line x1="56.3" y1="48.2" x2="57.9" y2="48.9" stroke="#7c817c" stroke-width="0.7"/><line x1="17.1" y1="49.6" x2="15.9" y2="50.7" stroke="#656a65" stroke-width="0.7"/><line x1="16.5" y1="30.8" x2="14.8" y2="29.7" stroke="#ffffff" stroke-width="0.7"/><line x1="34.2" y1="47.0" x2="33.7" y2="49.3" stroke="#7c817c" stroke-width="0.7"/><line x1="51.4" y1="28.4" x2="53.4" y2="26.9" stroke="#4f544f" stroke-width="0.7"/><line x1="16.6" y1="16.8" x2="16.5" y2="15.5" stroke="#7c817c" stroke-width="0.7"/><line x1="6.7" y1="41.1" x2="4.5" y2="40.9" stroke="#8e938e" stroke-width="0.7"/><line x1="24.4" y1="25.3" x2="24.1" y2="23.6" stroke="#656a65" stroke-width="0.7"/><line x1="25.9" y1="53.9" x2="25.7" y2="56.4" stroke="#7c817c" stroke-width="0.7"/><line x1="42.1" y1="19.2" x2="42.4" y2="18.1" stroke="#4f544f" stroke-width="0.7"/><line x1="27.6" y1="30.6" x2="27.4" y2="32.1" stroke="#7c817c" stroke-width="0.7"/><line x1="12.7" y1="45.7" x2="11.5" y2="45.5" stroke="#ffffff" stroke-width="0.7"/><line x1="30.9" y1="22.0" x2="30.9" y2="23.2" stroke="#ffffff" stroke-width="0.7"/><line x1="23.4" y1="59.8" x2="23.1" y2="61.4" stroke="#7c817c" stroke-width="0.7"/><line x1="31.8" y1="56.8" x2="31.3" y2="58.3" stroke="#7c817c" stroke-width="0.7"/><line x1="21.1" y1="35.0" x2="20.3" y2="34.2" stroke="#7c817c" stroke-width="0.7"/><line x1="37.3" y1="24.1" x2="38.5" y2="22.7" stroke="#7c817c" stroke-width="0.7"/><line x1="43.3" y1="19.0" x2="43.4" y2="17.8" stroke="#656a65" stroke-width="0.7"/><line x1="12.3" y1="32.7" x2="11.3" y2="31.9" stroke="#ffffff" stroke-width="0.7"/><line x1="52.3" y1="13.4" x2="53.9" y2="12.4" stroke="#4f544f" stroke-width="0.7"/><line x1="49.0" y1="31.8" x2="50.8" y2="31.5" stroke="#7c817c" stroke-width="0.7"/><line x1="27.7" y1="58.2" x2="27.2" y2="60.1" stroke="#ffffff" stroke-width="0.7"/><line x1="30.8" y1="11.8" x2="30.7" y2="10.0" stroke="#8e938e" stroke-width="0.7"/><line x1="19.6" y1="33.7" x2="17.3" y2="32.4" stroke="#4f544f" stroke-width="0.7"/><line x1="11.9" y1="26.5" x2="11.2" y2="25.8" stroke="#4f544f" stroke-width="0.7"/><line x1="33.7" y1="35.0" x2="33.5" y2="36.0" stroke="#ffffff" stroke-width="0.7"/><line x1="41.3" y1="25.0" x2="42.5" y2="24.0" stroke="#ffffff" stroke-width="0.7"/><line x1="51.4" y1="39.7" x2="52.8" y2="40.1" stroke="#7c817c" stroke-width="0.7"/><line x1="27.9" y1="39.7" x2="27.6" y2="41.1" stroke="#ffffff" stroke-width="0.7"/><line x1="26.6" y1="36.3" x2="26.9" y2="38.0" stroke="#656a65" stroke-width="0.7"/><line x1="20.9" y1="22.3" x2="20.1" y2="20.5" stroke="#4f544f" stroke-width="0.7"/><line x1="26.3" y1="39.7" x2="26.4" y2="41.6" stroke="#ffffff" stroke-width="0.7"/><line x1="40.2" y1="46.7" x2="41.3" y2="48.3" stroke="#8e938e" stroke-width="0.7"/><line x1="9.7" y1="47.8" x2="7.3" y2="48.0" stroke="#4f544f" stroke-width="0.7"/><line x1="50.3" y1="8.9" x2="50.5" y2="7.9" stroke="#4f544f" stroke-width="0.7"/><line x1="24.3" y1="57.9" x2="23.1" y2="59.3" stroke="#7c817c" stroke-width="0.7"/><line x1="56.9" y1="14.6" x2="57.2" y2="13.6" stroke="#8e938e" stroke-width="0.7"/><line x1="3.6" y1="40.6" x2="2.5" y2="41.1" stroke="#ffffff" stroke-width="0.7"/><line x1="25.6" y1="42.3" x2="23.2" y2="41.3" stroke="#ffffff" stroke-width="0.7"/><line x1="50.8" y1="39.3" x2="52.3" y2="38.4" stroke="#656a65" stroke-width="0.7"/><line x1="41.4" y1="31.0" x2="41.8" y2="29.0" stroke="#4f544f" stroke-width="0.7"/><line x1="18.2" y1="40.7" x2="16.0" y2="40.6" stroke="#4f544f" stroke-width="0.7"/><line x1="24.1" y1="52.8" x2="23.2" y2="53.7" stroke="#4f544f" stroke-width="0.7"/><line x1="19.3" y1="39.9" x2="17.3" y2="39.6" stroke="#7c817c" stroke-width="0.7"/><line x1="58.3" y1="48.7" x2="59.8" y2="49.3" stroke="#7c817c" stroke-width="0.7"/><line x1="48.1" y1="13.3" x2="49.5" y2="12.1" stroke="#4f544f" stroke-width="0.7"/><line x1="48.0" y1="33.9" x2="49.8" y2="32.1" stroke="#4f544f" stroke-width="0.7"/><line x1="24.0" y1="45.9" x2="22.4" y2="46.4" stroke="#ffffff" stroke-width="0.7"/><line x1="51.4" y1="32.8" x2="53.1" y2="31.4" stroke="#7c817c" stroke-width="0.7"/><line x1="54.6" y1="24.6" x2="56.8" y2="23.2" stroke="#656a65" stroke-width="0.7"/><line x1="39.7" y1="23.0" x2="40.4" y2="20.7" stroke="#ffffff" stroke-width="0.7"/><line x1="25.6" y1="27.6" x2="25.4" y2="26.2" stroke="#ffffff" stroke-width="0.7"/><line x1="17.4" y1="30.7" x2="15.7" y2="29.2" stroke="#4f544f" stroke-width="0.7"/><line x1="19.0" y1="11.6" x2="19.2" y2="10.3" stroke="#8e938e" stroke-width="0.7"/><line x1="36.5" y1="56.2" x2="37.8" y2="58.0" stroke="#656a65" stroke-width="0.7"/><line x1="26.1" y1="50.2" x2="25.6" y2="52.0" stroke="#4f544f" stroke-width="0.7"/><line x1="52.2" y1="33.3" x2="53.8" y2="31.6" stroke="#4f544f" stroke-width="0.7"/><line x1="15.4" y1="41.4" x2="13.2" y2="40.4" stroke="#8e938e" stroke-width="0.7"/><line x1="21.2" y1="36.4" x2="19.9" y2="36.2" stroke="#4f544f" stroke-width="0.7"/><line x1="37.3" y1="29.4" x2="37.7" y2="28.2" stroke="#4f544f" stroke-width="0.7"/><line x1="60.9" y1="35.5" x2="62.5" y2="35.8" stroke="#ffffff" stroke-width="0.7"/><line x1="52.0" y1="12.6" x2="53.0" y2="11.4" stroke="#8e938e" stroke-width="0.7"/><line x1="37.3" y1="41.9" x2="39.7" y2="41.1" stroke="#7c817c" stroke-width="0.7"/><line x1="28.1" y1="66.4" x2="27.2" y2="68.5" stroke="#656a65" stroke-width="0.7"/><line x1="3.4" y1="39.9" x2="1.8" y2="39.2" stroke="#4f544f" stroke-width="0.7"/><line x1="57.0" y1="45.5" x2="58.8" y2="46.6" stroke="#4f544f" stroke-width="0.7"/><line x1="17.0" y1="40.4" x2="14.5" y2="39.8" stroke="#8e938e" stroke-width="0.7"/><line x1="25.9" y1="32.5" x2="23.9" y2="30.9" stroke="#656a65" stroke-width="0.7"/><line x1="33.9" y1="52.3" x2="33.6" y2="54.0" stroke="#4f544f" stroke-width="0.7"/><line x1="9.6" y1="53.3" x2="7.5" y2="53.4" stroke="#7c817c" stroke-width="0.7"/><line x1="38.9" y1="32.0" x2="40.1" y2="30.7" stroke="#7c817c" stroke-width="0.7"/><line x1="9.4" y1="48.1" x2="7.9" y2="49.5" stroke="#656a65" stroke-width="0.7"/><line x1="52.7" y1="12.7" x2="53.6" y2="12.0" stroke="#8e938e" stroke-width="0.7"/><line x1="9.2" y1="32.4" x2="6.7" y2="32.4" stroke="#4f544f" stroke-width="0.7"/><line x1="41.5" y1="32.8" x2="42.9" y2="30.9" stroke="#ffffff" stroke-width="0.7"/><line x1="29.8" y1="62.5" x2="29.7" y2="63.7" stroke="#ffffff" stroke-width="0.7"/><line x1="27.2" y1="12.6" x2="26.3" y2="10.4" stroke="#7c817c" stroke-width="0.7"/><line x1="53.1" y1="19.7" x2="53.7" y2="18.1" stroke="#ffffff" stroke-width="0.7"/><line x1="44.1" y1="16.4" x2="44.7" y2="15.0" stroke="#7c817c" stroke-width="0.7"/><line x1="28.5" y1="19.8" x2="28.7" y2="21.1" stroke="#ffffff" stroke-width="0.7"/><line x1="19.1" y1="62.9" x2="18.9" y2="65.1" stroke="#7c817c" stroke-width="0.7"/><line x1="9.5" y1="45.5" x2="7.8" y2="45.9" stroke="#8e938e" stroke-width="0.7"/><line x1="54.9" y1="37.8" x2="56.4" y2="37.0" stroke="#ffffff" stroke-width="0.7"/><line x1="14.4" y1="40.9" x2="13.2" y2="41.2" stroke="#656a65" stroke-width="0.7"/><line x1="47.0" y1="15.4" x2="47.1" y2="14.2" stroke="#8e938e" stroke-width="0.7"/><line x1="9.0" y1="47.6" x2="7.7" y2="47.7" stroke="#7c817c" stroke-width="0.7"/><line x1="13.4" y1="6.5" x2="12.2" y2="4.7" stroke="#4f544f" stroke-width="0.7"/><line x1="34.2" y1="25.6" x2="34.5" y2="27.6" stroke="#ffffff" stroke-width="0.7"/><line x1="50.4" y1="11.1" x2="51.3" y2="10.0" stroke="#8e938e" stroke-width="0.7"/><line x1="54.9" y1="27.0" x2="55.9" y2="25.7" stroke="#8e938e" stroke-width="0.7"/><line x1="56.6" y1="26.2" x2="59.2" y2="25.9" stroke="#4f544f" stroke-width="0.7"/><line x1="8.0" y1="50.6" x2="5.6" y2="50.7" stroke="#7c817c" stroke-width="0.7"/><line x1="38.0" y1="63.1" x2="38.6" y2="64.1" stroke="#ffffff" stroke-width="0.7"/><line x1="53.1" y1="11.1" x2="53.5" y2="10.1" stroke="#8e938e" stroke-width="0.7"/><line x1="39.6" y1="41.2" x2="41.7" y2="41.0" stroke="#4f544f" stroke-width="0.7"/><line x1="11.8" y1="20.6" x2="10.4" y2="19.2" stroke="#7c817c" stroke-width="0.7"/><line x1="58.4" y1="38.8" x2="59.6" y2="38.3" stroke="#8e938e" stroke-width="0.7"/><line x1="30.5" y1="29.0" x2="30.2" y2="30.0" stroke="#ffffff" stroke-width="0.7"/><line x1="45.8" y1="42.6" x2="46.8" y2="42.8" stroke="#4f544f" stroke-width="0.7"/><line x1="51.3" y1="25.0" x2="52.1" y2="23.7" stroke="#ffffff" stroke-width="0.7"/><line x1="55.6" y1="40.4" x2="57.0" y2="41.0" stroke="#ffffff" stroke-width="0.7"/><line x1="55.9" y1="5.6" x2="57.4" y2="3.6" stroke="#7c817c" stroke-width="0.7"/><line x1="16.5" y1="30.7" x2="15.3" y2="29.6" stroke="#8e938e" stroke-width="0.7"/><line x1="12.4" y1="24.1" x2="10.5" y2="23.2" stroke="#656a65" stroke-width="0.7"/><line x1="41.8" y1="57.0" x2="42.0" y2="58.1" stroke="#8e938e" stroke-width="0.7"/><line x1="35.8" y1="64.9" x2="35.8" y2="66.3" stroke="#8e938e" stroke-width="0.7"/><line x1="22.9" y1="13.4" x2="21.2" y2="11.5" stroke="#8e938e" stroke-width="0.7"/><line x1="29.0" y1="36.8" x2="28.5" y2="39.2" stroke="#8e938e" stroke-width="0.7"/><line x1="36.1" y1="59.1" x2="36.3" y2="61.0" stroke="#ffffff" stroke-width="0.7"/><line x1="36.2" y1="43.7" x2="36.2" y2="45.2" stroke="#656a65" stroke-width="0.7"/><line x1="22.0" y1="14.8" x2="21.3" y2="12.4" stroke="#ffffff" stroke-width="0.7"/><line x1="56.9" y1="18.2" x2="58.2" y2="17.1" stroke="#7c817c" stroke-width="0.7"/><line x1="36.4" y1="43.2" x2="36.6" y2="45.2" stroke="#8e938e" stroke-width="0.7"/><line x1="25.6" y1="31.9" x2="25.2" y2="30.8" stroke="#656a65" stroke-width="0.7"/><line x1="55.4" y1="8.5" x2="57.4" y2="7.1" stroke="#ffffff" stroke-width="0.7"/><line x1="46.4" y1="30.1" x2="47.2" y2="28.6" stroke="#8e938e" stroke-width="0.7"/><line x1="38.7" y1="35.9" x2="40.5" y2="35.3" stroke="#ffffff" stroke-width="0.7"/><line x1="56.1" y1="21.0" x2="57.1" y2="20.3" stroke="#ffffff" stroke-width="0.7"/><line x1="45.7" y1="21.6" x2="46.4" y2="20.2" stroke="#8e938e" stroke-width="0.7"/><line x1="36.7" y1="28.1" x2="36.9" y2="30.4" stroke="#ffffff" stroke-width="0.7"/><line x1="25.1" y1="22.4" x2="24.4" y2="20.2" stroke="#ffffff" stroke-width="0.7"/><line x1="38.0" y1="41.5" x2="40.2" y2="40.4" stroke="#7c817c" stroke-width="0.7"/><line x1="16.0" y1="24.2" x2="15.4" y2="21.8" stroke="#4f544f" stroke-width="0.7"/><line x1="35.4" y1="23.2" x2="35.3" y2="24.9" stroke="#8e938e" stroke-width="0.7"/><line x1="48.0" y1="31.2" x2="48.9" y2="30.6" stroke="#7c817c" stroke-width="0.7"/><line x1="27.0" y1="36.1" x2="26.8" y2="38.5" stroke="#656a65" stroke-width="0.7"/><line x1="32.1" y1="31.9" x2="31.9" y2="34.5" stroke="#7c817c" stroke-width="0.7"/><line x1="23.9" y1="26.9" x2="22.8" y2="26.0" stroke="#656a65" stroke-width="0.7"/><line x1="45.5" y1="57.8" x2="46.1" y2="59.4" stroke="#656a65" stroke-width="0.7"/><line x1="34.6" y1="57.5" x2="35.7" y2="59.7" stroke="#ffffff" stroke-width="0.7"/><line x1="27.2" y1="55.6" x2="27.4" y2="57.7" stroke="#4f544f" stroke-width="0.7"/><line x1="50.8" y1="40.6" x2="53.1" y2="41.3" stroke="#8e938e" stroke-width="0.7"/><line x1="34.5" y1="58.0" x2="34.6" y2="60.3" stroke="#4f544f" stroke-width="0.7"/><line x1="41.5" y1="60.4" x2="41.5" y2="61.5" stroke="#656a65" stroke-width="0.7"/><line x1="29.7" y1="28.2" x2="30.3" y2="30.6" stroke="#8e938e" stroke-width="0.7"/><line x1="57.2" y1="33.0" x2="58.5" y2="32.4" stroke="#ffffff" stroke-width="0.7"/><line x1="27.3" y1="29.1" x2="27.2" y2="30.1" stroke="#656a65" stroke-width="0.7"/><line x1="58.2" y1="28.9" x2="59.5" y2="28.1" stroke="#ffffff" stroke-width="0.7"/><line x1="22.2" y1="46.3" x2="20.0" y2="47.4" stroke="#8e938e" stroke-width="0.7"/><line x1="43.8" y1="25.2" x2="44.4" y2="23.2" stroke="#4f544f" stroke-width="0.7"/><line x1="13.0" y1="39.1" x2="11.2" y2="38.2" stroke="#ffffff" stroke-width="0.7"/><line x1="10.5" y1="26.0" x2="9.5" y2="24.8" stroke="#8e938e" stroke-width="0.7"/><line x1="33.3" y1="17.5" x2="33.4" y2="18.7" stroke="#7c817c" stroke-width="0.7"/><line x1="39.3" y1="31.9" x2="41.0" y2="31.1" stroke="#ffffff" stroke-width="0.7"/><line x1="40.1" y1="16.5" x2="40.9" y2="15.5" stroke="#8e938e" stroke-width="0.7"/><line x1="47.4" y1="11.9" x2="47.4" y2="9.7" stroke="#656a65" stroke-width="0.7"/><line x1="51.2" y1="17.7" x2="52.1" y2="15.5" stroke="#4f544f" stroke-width="0.7"/><line x1="37.1" y1="26.6" x2="37.6" y2="25.2" stroke="#4f544f" stroke-width="0.7"/><line x1="23.5" y1="59.4" x2="22.7" y2="61.2" stroke="#656a65" stroke-width="0.7"/><line x1="24.2" y1="56.4" x2="22.6" y2="58.2" stroke="#4f544f" stroke-width="0.7"/><line x1="55.9" y1="25.9" x2="57.0" y2="25.4" stroke="#4f544f" stroke-width="0.7"/><line x1="44.7" y1="29.5" x2="46.0" y2="28.5" stroke="#7c817c" stroke-width="0.7"/><line x1="37.3" y1="17.5" x2="37.6" y2="15.7" stroke="#ffffff" stroke-width="0.7"/><line x1="44.2" y1="41.1" x2="45.3" y2="41.5" stroke="#7c817c" stroke-width="0.7"/><line x1="38.6" y1="49.3" x2="39.2" y2="50.2" stroke="#7c817c" stroke-width="0.7"/><line x1="45.8" y1="28.8" x2="47.9" y2="27.6" stroke="#7c817c" stroke-width="0.7"/><line x1="34.8" y1="25.7" x2="34.3" y2="27.4" stroke="#7c817c" stroke-width="0.7"/><line x1="45.6" y1="52.2" x2="46.9" y2="53.4" stroke="#4f544f" stroke-width="0.7"/><line x1="44.7" y1="16.0" x2="46.0" y2="14.1" stroke="#656a65" stroke-width="0.7"/><line x1="32.3" y1="14.9" x2="31.7" y2="17.1" stroke="#8e938e" stroke-width="0.7"/><line x1="17.2" y1="39.2" x2="15.6" y2="37.9" stroke="#8e938e" stroke-width="0.7"/><line x1="11.1" y1="25.6" x2="9.1" y2="25.1" stroke="#656a65" stroke-width="0.7"/><line x1="9.0" y1="50.1" x2="7.7" y2="50.3" stroke="#656a65" stroke-width="0.7"/><line x1="8.8" y1="45.6" x2="7.6" y2="45.5" stroke="#656a65" stroke-width="0.7"/><line x1="38.8" y1="18.4" x2="39.3" y2="17.3" stroke="#ffffff" stroke-width="0.7"/><line x1="50.2" y1="13.5" x2="51.5" y2="12.1" stroke="#ffffff" stroke-width="0.7"/><line x1="55.4" y1="29.6" x2="56.9" y2="28.1" stroke="#4f544f" stroke-width="0.7"/><line x1="23.8" y1="16.0" x2="22.8" y2="15.0" stroke="#656a65" stroke-width="0.7"/><line x1="29.4" y1="40.7" x2="29.6" y2="42.6" stroke="#4f544f" stroke-width="0.7"/><line x1="32.3" y1="31.5" x2="32.6" y2="33.4" stroke="#4f544f" stroke-width="0.7"/><line x1="18.9" y1="43.7" x2="16.8" y2="43.6" stroke="#4f544f" stroke-width="0.7"/><line x1="11.1" y1="55.4" x2="9.7" y2="55.8" stroke="#656a65" stroke-width="0.7"/><line x1="42.7" y1="26.2" x2="43.1" y2="25.1" stroke="#7c817c" stroke-width="0.7"/><line x1="55.3" y1="19.2" x2="55.7" y2="18.1" stroke="#ffffff" stroke-width="0.7"/><line x1="32.6" y1="36.0" x2="32.9" y2="37.4" stroke="#8e938e" stroke-width="0.7"/><line x1="41.3" y1="11.6" x2="41.4" y2="10.4" stroke="#ffffff" stroke-width="0.7"/><line x1="29.0" y1="15.0" x2="28.9" y2="16.0" stroke="#8e938e" stroke-width="0.7"/><line x1="28.1" y1="21.3" x2="27.9" y2="23.1" stroke="#ffffff" stroke-width="0.7"/><line x1="44.6" y1="40.6" x2="46.4" y2="40.3" stroke="#8e938e" stroke-width="0.7"/><line x1="31.7" y1="46.0" x2="31.9" y2="47.6" stroke="#4f544f" stroke-width="0.7"/><line x1="56.0" y1="17.1" x2="57.8" y2="16.0" stroke="#656a65" stroke-width="0.7"/><line x1="43.6" y1="27.3" x2="44.7" y2="26.1" stroke="#8e938e" stroke-width="0.7"/><line x1="15.9" y1="32.0" x2="14.6" y2="31.6" stroke="#656a65" stroke-width="0.7"/><line x1="56.9" y1="19.2" x2="57.7" y2="17.6" stroke="#7c817c" stroke-width="0.7"/><line x1="46.8" y1="17.4" x2="47.7" y2="15.8" stroke="#4f544f" stroke-width="0.7"/><line x1="37.4" y1="59.9" x2="37.7" y2="62.2" stroke="#656a65" stroke-width="0.7"/><line x1="57.0" y1="39.4" x2="59.2" y2="39.7" stroke="#4f544f" stroke-width="0.7"/><line x1="34.0" y1="33.3" x2="33.8" y2="35.1" stroke="#656a65" stroke-width="0.7"/><line x1="37.2" y1="54.7" x2="38.7" y2="56.3" stroke="#4f544f" stroke-width="0.7"/><line x1="7.6" y1="51.5" x2="6.2" y2="52.3" stroke="#7c817c" stroke-width="0.7"/><line x1="53.1" y1="52.1" x2="54.5" y2="52.0" stroke="#656a65" stroke-width="0.7"/><line x1="24.6" y1="52.1" x2="22.7" y2="53.2" stroke="#4f544f" stroke-width="0.7"/><line x1="53.9" y1="26.0" x2="55.0" y2="25.0" stroke="#8e938e" stroke-width="0.7"/><line x1="44.6" y1="19.3" x2="44.9" y2="17.6" stroke="#8e938e" stroke-width="0.7"/><line x1="29.0" y1="55.8" x2="29.0" y2="56.9" stroke="#7c817c" stroke-width="0.7"/><line x1="12.2" y1="39.7" x2="10.1" y2="39.9" stroke="#ffffff" stroke-width="0.7"/><line x1="55.2" y1="42.0" x2="57.7" y2="41.4" stroke="#7c817c" stroke-width="0.7"/><line x1="22.6" y1="12.3" x2="21.9" y2="10.0" stroke="#4f544f" stroke-width="0.7"/><line x1="4.9" y1="44.2" x2="3.0" y2="44.1" stroke="#ffffff" stroke-width="0.7"/><line x1="29.6" y1="17.6" x2="29.1" y2="19.3" stroke="#7c817c" stroke-width="0.7"/><line x1="21.7" y1="16.7" x2="21.4" y2="15.7" stroke="#656a65" stroke-width="0.7"/><line x1="54.1" y1="51.5" x2="55.8" y2="51.9" stroke="#7c817c" stroke-width="0.7"/><line x1="20.7" y1="24.8" x2="20.0" y2="23.7" stroke="#656a65" stroke-width="0.7"/><line x1="44.3" y1="20.5" x2="44.8" y2="18.8" stroke="#7c817c" stroke-width="0.7"/><line x1="23.6" y1="41.0" x2="22.4" y2="40.8" stroke="#4f544f" stroke-width="0.7"/><line x1="28.1" y1="40.9" x2="28.7" y2="43.1" stroke="#656a65" stroke-width="0.7"/><line x1="45.0" y1="22.7" x2="46.6" y2="21.2" stroke="#8e938e" stroke-width="0.7"/><line x1="56.3" y1="18.7" x2="58.3" y2="17.9" stroke="#7c817c" stroke-width="0.7"/><line x1="31.8" y1="27.0" x2="32.0" y2="28.3" stroke="#7c817c" stroke-width="0.7"/><line x1="58.7" y1="47.7" x2="60.3" y2="47.8" stroke="#7c817c" stroke-width="0.7"/><line x1="61.3" y1="41.9" x2="63.4" y2="41.1" stroke="#7c817c" stroke-width="0.7"/><line x1="48.0" y1="39.5" x2="49.4" y2="39.9" stroke="#656a65" stroke-width="0.7"/><line x1="11.8" y1="41.5" x2="10.4" y2="40.7" stroke="#ffffff" stroke-width="0.7"/><line x1="55.3" y1="23.7" x2="56.7" y2="21.7" stroke="#8e938e" stroke-width="0.7"/><line x1="26.4" y1="15.6" x2="26.2" y2="18.0" stroke="#4f544f" stroke-width="0.7"/><line x1="13.0" y1="51.9" x2="11.9" y2="52.3" stroke="#8e938e" stroke-width="0.7"/><line x1="22.5" y1="11.3" x2="21.4" y2="9.8" stroke="#4f544f" stroke-width="0.7"/><line x1="14.0" y1="24.2" x2="13.0" y2="22.5" stroke="#ffffff" stroke-width="0.7"/><line x1="5.8" y1="43.7" x2="3.2" y2="43.1" stroke="#ffffff" stroke-width="0.7"/><line x1="17.0" y1="33.5" x2="14.5" y2="33.4" stroke="#8e938e" stroke-width="0.7"/><line x1="43.2" y1="23.3" x2="44.1" y2="21.4" stroke="#7c817c" stroke-width="0.7"/><line x1="10.3" y1="3.3" x2="9.0" y2="2.0" stroke="#4f544f" stroke-width="0.7"/><line x1="23.6" y1="26.6" x2="22.3" y2="24.9" stroke="#8e938e" stroke-width="0.7"/><line x1="37.9" y1="17.6" x2="38.8" y2="15.5" stroke="#ffffff" stroke-width="0.7"/><line x1="29.9" y1="20.9" x2="29.9" y2="23.4" stroke="#656a65" stroke-width="0.7"/><line x1="16.7" y1="40.0" x2="14.5" y2="40.6" stroke="#7c817c" stroke-width="0.7"/><line x1="9.9" y1="44.8" x2="7.4" y2="45.3" stroke="#4f544f" stroke-width="0.7"/><line x1="35.9" y1="15.9" x2="35.6" y2="17.3" stroke="#8e938e" stroke-width="0.7"/><line x1="24.1" y1="12.2" x2="22.9" y2="10.3" stroke="#656a65" stroke-width="0.7"/><line x1="34.9" y1="25.9" x2="34.7" y2="27.5" stroke="#ffffff" stroke-width="0.7"/><line x1="44.5" y1="25.8" x2="45.1" y2="24.4" stroke="#ffffff" stroke-width="0.7"/><line x1="28.6" y1="17.7" x2="29.0" y2="19.9" stroke="#7c817c" stroke-width="0.7"/><line x1="14.3" y1="40.7" x2="12.0" y2="41.4" stroke="#7c817c" stroke-width="0.7"/><line x1="16.5" y1="23.7" x2="15.1" y2="21.6" stroke="#656a65" stroke-width="0.7"/><line x1="38.2" y1="62.0" x2="39.6" y2="64.0" stroke="#7c817c" stroke-width="0.7"/><line x1="29.0" y1="31.6" x2="29.5" y2="34.0" stroke="#4f544f" stroke-width="0.7"/><line x1="53.1" y1="12.3" x2="54.2" y2="11.7" stroke="#7c817c" stroke-width="0.7"/><line x1="10.0" y1="52.0" x2="9.1" y2="53.0" stroke="#ffffff" stroke-width="0.7"/><line x1="52.3" y1="48.9" x2="54.1" y2="48.6" stroke="#656a65" stroke-width="0.7"/><line x1="37.9" y1="49.5" x2="38.4" y2="50.5" stroke="#7c817c" stroke-width="0.7"/><line x1="14.8" y1="38.7" x2="13.0" y2="38.2" stroke="#4f544f" stroke-width="0.7"/><line x1="35.0" y1="59.1" x2="34.7" y2="60.2" stroke="#656a65" stroke-width="0.7"/><line x1="14.8" y1="6.9" x2="13.6" y2="6.1" stroke="#4f544f" stroke-width="0.7"/><line x1="13.0" y1="5.3" x2="12.9" y2="3.8" stroke="#7c817c" stroke-width="0.7"/><line x1="36.2" y1="48.9" x2="35.5" y2="51.2" stroke="#7c817c" stroke-width="0.7"/><line x1="26.4" y1="23.6" x2="26.5" y2="26.2" stroke="#ffffff" stroke-width="0.7"/><line x1="41.9" y1="18.3" x2="42.9" y2="15.9" stroke="#8e938e" stroke-width="0.7"/><line x1="54.5" y1="47.1" x2="56.4" y2="46.7" stroke="#4f544f" stroke-width="0.7"/><line x1="45.8" y1="24.1" x2="47.2" y2="22.8" stroke="#7c817c" stroke-width="0.7"/><line x1="30.1" y1="41.3" x2="30.1" y2="43.3" stroke="#ffffff" stroke-width="0.7"/><line x1="33.7" y1="42.3" x2="33.3" y2="43.6" stroke="#ffffff" stroke-width="0.7"/><line x1="52.6" y1="47.2" x2="54.4" y2="48.5" stroke="#7c817c" stroke-width="0.7"/><line x1="60.0" y1="34.2" x2="61.8" y2="34.1" stroke="#ffffff" stroke-width="0.7"/><line x1="24.0" y1="15.9" x2="23.1" y2="14.6" stroke="#656a65" stroke-width="0.7"/><line x1="10.1" y1="47.0" x2="7.9" y2="48.3" stroke="#4f544f" stroke-width="0.7"/><line x1="21.2" y1="26.6" x2="20.8" y2="25.0" stroke="#ffffff" stroke-width="0.7"/><line x1="53.0" y1="37.5" x2="54.1" y2="37.2" stroke="#ffffff" stroke-width="0.7"/><line x1="19.2" y1="32.3" x2="17.2" y2="31.8" stroke="#656a65" stroke-width="0.7"/><line x1="50.1" y1="12.2" x2="51.1" y2="11.0" stroke="#8e938e" stroke-width="0.7"/><line x1="52.9" y1="19.2" x2="53.6" y2="18.5" stroke="#7c817c" stroke-width="0.7"/><line x1="47.4" y1="20.7" x2="48.0" y2="19.4" stroke="#ffffff" stroke-width="0.7"/><line x1="6.0" y1="45.3" x2="4.7" y2="45.0" stroke="#ffffff" stroke-width="0.7"/><line x1="47.3" y1="27.5" x2="48.1" y2="25.5" stroke="#ffffff" stroke-width="0.7"/><line x1="28.4" y1="43.3" x2="28.6" y2="44.7" stroke="#8e938e" stroke-width="0.7"/><line x1="8.5" y1="44.1" x2="6.4" y2="43.2" stroke="#8e938e" stroke-width="0.7"/><line x1="24.6" y1="47.3" x2="23.8" y2="48.0" stroke="#ffffff" stroke-width="0.7"/><line x1="25.0" y1="37.8" x2="23.0" y2="36.5" stroke="#4f544f" stroke-width="0.7"/><line x1="7.1" y1="40.3" x2="5.3" y2="39.3" stroke="#ffffff" stroke-width="0.7"/><line x1="27.4" y1="34.2" x2="27.0" y2="35.9" stroke="#ffffff" stroke-width="0.7"/><line x1="8.9" y1="53.2" x2="8.1" y2="54.3" stroke="#656a65" stroke-width="0.7"/><line x1="44.9" y1="39.7" x2="47.1" y2="39.9" stroke="#4f544f" stroke-width="0.7"/><line x1="32.8" y1="59.7" x2="33.4" y2="61.3" stroke="#656a65" stroke-width="0.7"/><line x1="46.9" y1="34.8" x2="48.3" y2="33.2" stroke="#ffffff" stroke-width="0.7"/><line x1="55.7" y1="11.5" x2="56.3" y2="10.6" stroke="#656a65" stroke-width="0.7"/><line x1="21.2" y1="14.9" x2="20.0" y2="13.5" stroke="#8e938e" stroke-width="0.7"/><line x1="17.3" y1="23.3" x2="15.4" y2="21.8" stroke="#8e938e" stroke-width="0.7"/><line x1="26.1" y1="62.2" x2="25.4" y2="63.6" stroke="#656a65" stroke-width="0.7"/><line x1="56.5" y1="19.5" x2="57.1" y2="18.5" stroke="#8e938e" stroke-width="0.7"/><line x1="30.1" y1="50.1" x2="29.9" y2="52.2" stroke="#4f544f" stroke-width="0.7"/><line x1="35.2" y1="29.8" x2="35.1" y2="31.3" stroke="#7c817c" stroke-width="0.7"/><line x1="14.5" y1="31.9" x2="13.2" y2="31.6" stroke="#8e938e" stroke-width="0.7"/><line x1="40.3" y1="29.6" x2="41.3" y2="28.7" stroke="#656a65" stroke-width="0.7"/><line x1="56.9" y1="6.9" x2="57.8" y2="5.9" stroke="#8e938e" stroke-width="0.7"/><line x1="48.7" y1="13.2" x2="49.2" y2="11.1" stroke="#7c817c" stroke-width="0.7"/><line x1="52.9" y1="38.3" x2="54.9" y2="37.2" stroke="#656a65" stroke-width="0.7"/><line x1="34.1" y1="33.7" x2="34.3" y2="34.8" stroke="#4f544f" stroke-width="0.7"/><line x1="27.4" y1="46.8" x2="27.7" y2="49.2" stroke="#ffffff" stroke-width="0.7"/><line x1="55.2" y1="22.0" x2="56.3" y2="20.4" stroke="#7c817c" stroke-width="0.7"/><line x1="17.0" y1="39.3" x2="14.5" y2="39.6" stroke="#656a65" stroke-width="0.7"/><line x1="25.1" y1="45.6" x2="23.7" y2="46.9" stroke="#4f544f" stroke-width="0.7"/><line x1="22.0" y1="29.3" x2="20.6" y2="28.6" stroke="#656a65" stroke-width="0.7"/><line x1="34.7" y1="21.8" x2="34.9" y2="24.0" stroke="#ffffff" stroke-width="0.7"/><line x1="13.2" y1="21.0" x2="11.7" y2="19.9" stroke="#4f544f" stroke-width="0.7"/><line x1="13.3" y1="34.0" x2="11.5" y2="32.6" stroke="#656a65" stroke-width="0.7"/><line x1="38.2" y1="22.4" x2="38.6" y2="21.3" stroke="#4f544f" stroke-width="0.7"/><line x1="22.0" y1="32.6" x2="20.1" y2="31.5" stroke="#656a65" stroke-width="0.7"/><line x1="53.4" y1="51.2" x2="55.4" y2="52.0" stroke="#4f544f" stroke-width="0.7"/><line x1="52.0" y1="42.5" x2="53.1" y2="42.5" stroke="#8e938e" stroke-width="0.7"/><line x1="38.2" y1="30.1" x2="39.3" y2="28.8" stroke="#7c817c" stroke-width="0.7"/><line x1="48.5" y1="26.4" x2="49.4" y2="25.8" stroke="#4f544f" stroke-width="0.7"/><line x1="31.7" y1="12.1" x2="30.7" y2="9.9" stroke="#4f544f" stroke-width="0.7"/><line x1="35.7" y1="24.1" x2="36.0" y2="25.9" stroke="#4f544f" stroke-width="0.7"/><line x1="33.4" y1="26.9" x2="33.7" y2="28.6" stroke="#656a65" stroke-width="0.7"/><line x1="48.0" y1="38.4" x2="49.0" y2="37.8" stroke="#4f544f" stroke-width="0.7"/><line x1="62.3" y1="35.2" x2="64.2" y2="35.3" stroke="#656a65" stroke-width="0.7"/><line x1="28.0" y1="44.4" x2="28.4" y2="46.3" stroke="#4f544f" stroke-width="0.7"/><line x1="5.6" y1="41.3" x2="3.7" y2="41.8" stroke="#8e938e" stroke-width="0.7"/><line x1="16.2" y1="42.7" x2="14.5" y2="43.7" stroke="#656a65" stroke-width="0.7"/><line x1="53.8" y1="25.3" x2="55.4" y2="24.7" stroke="#656a65" stroke-width="0.7"/><line x1="27.2" y1="29.7" x2="27.5" y2="31.0" stroke="#8e938e" stroke-width="0.7"/><line x1="44.8" y1="12.3" x2="45.1" y2="11.1" stroke="#656a65" stroke-width="0.7"/><line x1="24.1" y1="30.0" x2="23.1" y2="27.6" stroke="#8e938e" stroke-width="0.7"/><line x1="39.0" y1="31.6" x2="40.8" y2="30.2" stroke="#8e938e" stroke-width="0.7"/><line x1="52.0" y1="19.1" x2="53.2" y2="18.5" stroke="#656a65" stroke-width="0.7"/><line x1="38.8" y1="40.2" x2="40.7" y2="40.4" stroke="#4f544f" stroke-width="0.7"/><line x1="25.9" y1="55.3" x2="24.5" y2="56.9" stroke="#7c817c" stroke-width="0.7"/><line x1="54.5" y1="29.6" x2="55.7" y2="28.0" stroke="#7c817c" stroke-width="0.7"/><line x1="28.2" y1="22.7" x2="28.4" y2="24.7" stroke="#4f544f" stroke-width="0.7"/><line x1="58.0" y1="34.3" x2="59.3" y2="33.8" stroke="#656a65" stroke-width="0.7"/><line x1="22.1" y1="16.5" x2="21.0" y2="14.5" stroke="#8e938e" stroke-width="0.7"/><line x1="58.7" y1="29.7" x2="60.0" y2="29.2" stroke="#656a65" stroke-width="0.7"/><line x1="54.3" y1="14.5" x2="55.4" y2="12.2" stroke="#7c817c" stroke-width="0.7"/><line x1="11.0" y1="25.9" x2="9.7" y2="23.9" stroke="#ffffff" stroke-width="0.7"/><line x1="20.4" y1="23.7" x2="19.9" y2="21.4" stroke="#8e938e" stroke-width="0.7"/><line x1="10.7" y1="37.8" x2="9.5" y2="38.2" stroke="#656a65" stroke-width="0.7"/><line x1="30.0" y1="57.0" x2="30.2" y2="58.6" stroke="#4f544f" stroke-width="0.7"/><line x1="49.7" y1="19.2" x2="50.7" y2="17.7" stroke="#7c817c" stroke-width="0.7"/><line x1="29.3" y1="67.1" x2="29.4" y2="69.2" stroke="#ffffff" stroke-width="0.7"/><line x1="32.6" y1="49.0" x2="33.2" y2="51.3" stroke="#4f544f" stroke-width="0.7"/><line x1="36.8" y1="32.4" x2="36.4" y2="34.8" stroke="#8e938e" stroke-width="0.7"/><line x1="21.5" y1="11.3" x2="21.5" y2="10.1" stroke="#8e938e" stroke-width="0.7"/><line x1="60.6" y1="36.5" x2="61.8" y2="36.9" stroke="#8e938e" stroke-width="0.7"/><line x1="42.3" y1="21.1" x2="43.3" y2="20.0" stroke="#8e938e" stroke-width="0.7"/><line x1="23.8" y1="63.4" x2="23.3" y2="65.7" stroke="#ffffff" stroke-width="0.7"/><line x1="22.9" y1="11.5" x2="22.3" y2="9.2" stroke="#656a65" stroke-width="0.7"/><line x1="20.3" y1="37.4" x2="18.2" y2="36.1" stroke="#8e938e" stroke-width="0.7"/><line x1="19.6" y1="28.0" x2="19.0" y2="25.6" stroke="#656a65" stroke-width="0.7"/><line x1="31.3" y1="44.2" x2="30.9" y2="45.8" stroke="#7c817c" stroke-width="0.7"/><line x1="23.9" y1="23.7" x2="23.7" y2="22.0" stroke="#4f544f" stroke-width="0.7"/><line x1="29.7" y1="58.9" x2="29.1" y2="61.1" stroke="#7c817c" stroke-width="0.7"/><line x1="35.4" y1="47.0" x2="35.0" y2="48.6" stroke="#4f544f" stroke-width="0.7"/><line x1="18.2" y1="26.7" x2="17.6" y2="24.9" stroke="#7c817c" stroke-width="0.7"/><line x1="56.2" y1="10.2" x2="56.8" y2="9.4" stroke="#8e938e" stroke-width="0.7"/><line x1="54.6" y1="40.5" x2="57.0" y2="40.0" stroke="#7c817c" stroke-width="0.7"/><line x1="39.8" y1="58.3" x2="40.0" y2="60.5" stroke="#7c817c" stroke-width="0.7"/><line x1="26.7" y1="59.2" x2="25.3" y2="61.2" stroke="#ffffff" stroke-width="0.7"/><line x1="25.9" y1="56.8" x2="25.6" y2="58.0" stroke="#656a65" stroke-width="0.7"/><line x1="35.1" y1="37.4" x2="34.9" y2="39.9" stroke="#656a65" stroke-width="0.7"/><line x1="14.1" y1="48.4" x2="13.3" y2="49.1" stroke="#8e938e" stroke-width="0.7"/><line x1="44.1" y1="41.3" x2="46.0" y2="41.0" stroke="#7c817c" stroke-width="0.7"/><line x1="51.8" y1="48.2" x2="52.8" y2="48.9" stroke="#656a65" stroke-width="0.7"/><line x1="49.0" y1="57.8" x2="50.5" y2="59.7" stroke="#656a65" stroke-width="0.7"/><line x1="42.7" y1="61.5" x2="44.1" y2="63.5" stroke="#4f544f" stroke-width="0.7"/><line x1="50.9" y1="43.1" x2="52.9" y2="43.3" stroke="#656a65" stroke-width="0.7"/><line x1="20.4" y1="26.5" x2="19.1" y2="24.4" stroke="#4f544f" stroke-width="0.7"/><line x1="55.3" y1="24.1" x2="56.2" y2="22.3" stroke="#656a65" stroke-width="0.7"/><line x1="29.5" y1="36.2" x2="28.9" y2="38.1" stroke="#8e938e" stroke-width="0.7"/><line x1="54.6" y1="9.5" x2="55.3" y2="7.6" stroke="#7c817c" stroke-width="0.7"/><line x1="15.2" y1="39.8" x2="13.9" y2="39.2" stroke="#8e938e" stroke-width="0.7"/><line x1="33.3" y1="30.8" x2="33.8" y2="32.8" stroke="#4f544f" stroke-width="0.7"/><line x1="38.6" y1="29.2" x2="39.5" y2="27.5" stroke="#656a65" stroke-width="0.7"/><line x1="44.0" y1="62.0" x2="45.3" y2="62.8" stroke="#8e938e" stroke-width="0.7"/><line x1="4.7" y1="34.5" x2="3.0" y2="34.7" stroke="#8e938e" stroke-width="0.7"/><line x1="30.0" y1="25.2" x2="30.3" y2="26.9" stroke="#7c817c" stroke-width="0.7"/><line x1="51.3" y1="55.7" x2="52.8" y2="57.4" stroke="#656a65" stroke-width="0.7"/><line x1="37.0" y1="49.7" x2="36.4" y2="51.8" stroke="#4f544f" stroke-width="0.7"/><line x1="57.0" y1="51.1" x2="58.3" y2="51.8" stroke="#7c817c" stroke-width="0.7"/><line x1="41.4" y1="40.4" x2="42.9" y2="39.9" stroke="#4f544f" stroke-width="0.7"/><line x1="23.4" y1="63.1" x2="22.3" y2="64.5" stroke="#4f544f" stroke-width="0.7"/><line x1="22.6" y1="60.4" x2="21.8" y2="62.6" stroke="#ffffff" stroke-width="0.7"/><line x1="52.5" y1="34.4" x2="53.7" y2="34.3" stroke="#4f544f" stroke-width="0.7"/><line x1="34.9" y1="19.1" x2="35.0" y2="20.6" stroke="#4f544f" stroke-width="0.7"/><line x1="59.2" y1="31.7" x2="60.0" y2="30.9" stroke="#8e938e" stroke-width="0.7"/><line x1="13.5" y1="41.0" x2="11.3" y2="39.9" stroke="#7c817c" stroke-width="0.7"/><line x1="41.2" y1="62.2" x2="42.1" y2="64.0" stroke="#656a65" stroke-width="0.7"/><line x1="23.4" y1="61.9" x2="23.4" y2="64.3" stroke="#656a65" stroke-width="0.7"/><line x1="29.0" y1="40.9" x2="28.5" y2="42.9" stroke="#ffffff" stroke-width="0.7"/><line x1="50.3" y1="40.8" x2="52.6" y2="41.1" stroke="#656a65" stroke-width="0.7"/><line x1="26.4" y1="47.8" x2="26.2" y2="49.1" stroke="#ffffff" stroke-width="0.7"/><line x1="45.7" y1="34.1" x2="47.2" y2="32.2" stroke="#8e938e" stroke-width="0.7"/><line x1="25.2" y1="49.6" x2="23.1" y2="50.8" stroke="#4f544f" stroke-width="0.7"/><line x1="25.9" y1="55.6" x2="24.5" y2="57.1" stroke="#4f544f" stroke-width="0.7"/><line x1="30.8" y1="29.3" x2="30.1" y2="31.8" stroke="#4f544f" stroke-width="0.7"/><line x1="10.1" y1="3.2" x2="9.8" y2="2.1" stroke="#4f544f" stroke-width="0.7"/><line x1="56.2" y1="39.8" x2="57.9" y2="40.2" stroke="#8e938e" stroke-width="0.7"/><line x1="30.2" y1="47.6" x2="30.1" y2="48.9" stroke="#656a65" stroke-width="0.7"/><line x1="30.2" y1="10.3" x2="30.4" y2="9.0" stroke="#ffffff" stroke-width="0.7"/><line x1="5.7" y1="37.3" x2="4.6" y2="36.9" stroke="#656a65" stroke-width="0.7"/><line x1="45.7" y1="42.7" x2="47.4" y2="42.8" stroke="#ffffff" stroke-width="0.7"/><line x1="61.0" y1="41.1" x2="63.1" y2="40.4" stroke="#4f544f" stroke-width="0.7"/><line x1="44.9" y1="59.8" x2="46.5" y2="61.6" stroke="#656a65" stroke-width="0.7"/><line x1="40.8" y1="21.9" x2="41.0" y2="20.8" stroke="#7c817c" stroke-width="0.7"/><line x1="25.2" y1="13.0" x2="23.9" y2="10.9" stroke="#ffffff" stroke-width="0.7"/><line x1="21.7" y1="54.4" x2="19.7" y2="55.5" stroke="#8e938e" stroke-width="0.7"/><line x1="10.6" y1="4.4" x2="10.4" y2="2.7" stroke="#7c817c" stroke-width="0.7"/><line x1="24.2" y1="38.5" x2="23.4" y2="37.6" stroke="#8e938e" stroke-width="0.7"/><line x1="61.5" y1="37.3" x2="63.5" y2="37.5" stroke="#656a65" stroke-width="0.7"/><line x1="14.4" y1="53.3" x2="12.8" y2="53.9" stroke="#4f544f" stroke-width="0.7"/><line x1="28.9" y1="48.7" x2="28.7" y2="50.9" stroke="#ffffff" stroke-width="0.7"/><line x1="45.6" y1="16.2" x2="46.2" y2="13.8" stroke="#8e938e" stroke-width="0.7"/><line x1="4.9" y1="39.9" x2="3.0" y2="39.3" stroke="#8e938e" stroke-width="0.7"/><line x1="45.4" y1="20.6" x2="46.3" y2="19.7" stroke="#4f544f" stroke-width="0.7"/><line x1="16.8" y1="28.8" x2="16.0" y2="27.8" stroke="#4f544f" stroke-width="0.7"/><line x1="56.8" y1="33.3" x2="58.0" y2="32.7" stroke="#ffffff" stroke-width="0.7"/><line x1="54.7" y1="17.4" x2="56.7" y2="16.3" stroke="#7c817c" stroke-width="0.7"/><line x1="10.4" y1="46.8" x2="8.4" y2="47.1" stroke="#656a65" stroke-width="0.7"/><line x1="55.2" y1="5.9" x2="55.6" y2="4.8" stroke="#8e938e" stroke-width="0.7"/><line x1="56.3" y1="10.8" x2="57.7" y2="10.2" stroke="#656a65" stroke-width="0.7"/><line x1="16.6" y1="26.9" x2="15.8" y2="26.1" stroke="#656a65" stroke-width="0.7"/><line x1="56.3" y1="18.4" x2="57.6" y2="17.9" stroke="#4f544f" stroke-width="0.7"/><line x1="55.2" y1="18.0" x2="55.7" y2="16.3" stroke="#4f544f" stroke-width="0.7"/><line x1="7.3" y1="39.8" x2="5.6" y2="39.6" stroke="#ffffff" stroke-width="0.7"/><line x1="31.6" y1="13.8" x2="31.2" y2="12.2" stroke="#4f544f" stroke-width="0.7"/><line x1="12.6" y1="20.1" x2="11.6" y2="19.1" stroke="#7c817c" stroke-width="0.7"/><line x1="56.6" y1="9.5" x2="58.3" y2="8.6" stroke="#656a65" stroke-width="0.7"/><line x1="34.4" y1="36.7" x2="34.5" y2="37.9" stroke="#ffffff" stroke-width="0.7"/><line x1="30.4" y1="51.7" x2="30.9" y2="53.4" stroke="#7c817c" stroke-width="0.7"/><line x1="46.4" y1="34.3" x2="47.8" y2="33.1" stroke="#8e938e" stroke-width="0.7"/><line x1="59.6" y1="45.8" x2="60.6" y2="46.1" stroke="#656a65" stroke-width="0.7"/><line x1="24.1" y1="28.3" x2="23.8" y2="26.8" stroke="#4f544f" stroke-width="0.7"/><line x1="56.6" y1="27.0" x2="57.9" y2="26.8" stroke="#656a65" stroke-width="0.7"/><line x1="47.8" y1="32.6" x2="49.2" y2="32.3" stroke="#656a65" stroke-width="0.7"/><line x1="55.4" y1="22.7" x2="56.2" y2="21.7" stroke="#4f544f" stroke-width="0.7"/><line x1="26.5" y1="48.2" x2="27.3" y2="50.6" stroke="#656a65" stroke-width="0.7"/><line x1="44.4" y1="16.4" x2="45.4" y2="15.6" stroke="#ffffff" stroke-width="0.7"/><line x1="30.1" y1="17.4" x2="29.7" y2="18.8" stroke="#ffffff" stroke-width="0.7"/><line x1="11.7" y1="30.1" x2="10.3" y2="28.8" stroke="#656a65" stroke-width="0.7"/><line x1="53.6" y1="43.3" x2="55.4" y2="43.3" stroke="#ffffff" stroke-width="0.7"/><line x1="34.5" y1="41.5" x2="34.2" y2="42.6" stroke="#656a65" stroke-width="0.7"/><line x1="16.7" y1="40.8" x2="15.5" y2="41.0" stroke="#7c817c" stroke-width="0.7"/><line x1="6.3" y1="31.6" x2="4.3" y2="30.0" stroke="#7c817c" stroke-width="0.7"/><line x1="11.6" y1="11.4" x2="10.2" y2="10.6" stroke="#7c817c" stroke-width="0.7"/><line x1="53.3" y1="46.4" x2="54.4" y2="46.7" stroke="#656a65" stroke-width="0.7"/><line x1="33.0" y1="38.1" x2="32.8" y2="39.7" stroke="#8e938e" stroke-width="0.7"/><line x1="37.6" y1="14.3" x2="38.2" y2="13.0" stroke="#656a65" stroke-width="0.7"/><line x1="17.0" y1="57.9" x2="16.3" y2="59.9" stroke="#656a65" stroke-width="0.7"/><line x1="31.4" y1="48.1" x2="31.1" y2="50.1" stroke="#656a65" stroke-width="0.7"/><line x1="30.7" y1="24.1" x2="30.0" y2="26.5" stroke="#4f544f" stroke-width="0.7"/><line x1="48.5" y1="26.5" x2="50.4" y2="25.2" stroke="#656a65" stroke-width="0.7"/><line x1="33.7" y1="62.2" x2="33.6" y2="64.2" stroke="#ffffff" stroke-width="0.7"/><line x1="38.1" y1="26.2" x2="39.0" y2="24.8" stroke="#656a65" stroke-width="0.7"/><line x1="53.6" y1="49.1" x2="55.5" y2="50.2" stroke="#ffffff" stroke-width="0.7"/><line x1="42.4" y1="45.2" x2="43.3" y2="46.1" stroke="#7c817c" stroke-width="0.7"/><line x1="42.8" y1="13.1" x2="42.7" y2="11.4" stroke="#8e938e" stroke-width="0.7"/><line x1="39.3" y1="30.0" x2="39.9" y2="29.2" stroke="#4f544f" stroke-width="0.7"/><line x1="55.2" y1="7.8" x2="55.7" y2="6.6" stroke="#656a65" stroke-width="0.7"/><line x1="17.5" y1="50.4" x2="16.9" y2="51.4" stroke="#4f544f" stroke-width="0.7"/><line x1="22.1" y1="37.5" x2="20.5" y2="37.1" stroke="#ffffff" stroke-width="0.7"/><line x1="57.7" y1="24.6" x2="59.1" y2="24.4" stroke="#7c817c" stroke-width="0.7"/><line x1="6.0" y1="44.4" x2="4.6" y2="44.3" stroke="#7c817c" stroke-width="0.7"/><line x1="22.6" y1="35.4" x2="20.2" y2="34.7" stroke="#8e938e" stroke-width="0.7"/><line x1="53.1" y1="53.1" x2="54.3" y2="54.3" stroke="#7c817c" stroke-width="0.7"/><line x1="47.3" y1="17.6" x2="49.0" y2="16.1" stroke="#4f544f" stroke-width="0.7"/><line x1="52.4" y1="32.7" x2="54.5" y2="31.7" stroke="#8e938e" stroke-width="0.7"/><line x1="6.2" y1="47.1" x2="4.9" y2="47.3" stroke="#656a65" stroke-width="0.7"/><line x1="55.4" y1="33.1" x2="57.2" y2="32.9" stroke="#8e938e" stroke-width="0.7"/><line x1="35.2" y1="51.3" x2="35.8" y2="53.3" stroke="#656a65" stroke-width="0.7"/><line x1="33.8" y1="16.4" x2="33.6" y2="18.1" stroke="#656a65" stroke-width="0.7"/><line x1="52.4" y1="23.1" x2="53.7" y2="21.3" stroke="#4f544f" stroke-width="0.7"/><line x1="51.1" y1="23.5" x2="52.0" y2="22.2" stroke="#656a65" stroke-width="0.7"/><line x1="57.9" y1="33.4" x2="58.9" y2="32.7" stroke="#8e938e" stroke-width="0.7"/><line x1="47.4" y1="61.2" x2="48.2" y2="62.7" stroke="#7c817c" stroke-width="0.7"/><line x1="51.2" y1="9.2" x2="51.3" y2="7.6" stroke="#ffffff" stroke-width="0.7"/><line x1="33.9" y1="32.6" x2="33.4" y2="35.0" stroke="#ffffff" stroke-width="0.7"/><line x1="50.8" y1="27.3" x2="52.7" y2="25.6" stroke="#7c817c" stroke-width="0.7"/><line x1="30.1" y1="45.3" x2="30.2" y2="46.4" stroke="#8e938e" stroke-width="0.7"/><line x1="8.5" y1="33.7" x2="7.2" y2="33.0" stroke="#4f544f" stroke-width="0.7"/><line x1="56.3" y1="46.9" x2="58.1" y2="47.0" stroke="#656a65" stroke-width="0.7"/><line x1="10.8" y1="38.2" x2="9.7" y2="37.5" stroke="#656a65" stroke-width="0.7"/><line x1="25.5" y1="56.9" x2="24.6" y2="58.2" stroke="#656a65" stroke-width="0.7"/><line x1="30.2" y1="39.5" x2="30.8" y2="42.0" stroke="#ffffff" stroke-width="0.7"/><line x1="31.2" y1="67.0" x2="31.0" y2="68.5" stroke="#ffffff" stroke-width="0.7"/><line x1="26.0" y1="15.7" x2="26.1" y2="13.5" stroke="#ffffff" stroke-width="0.7"/><line x1="22.4" y1="18.9" x2="21.3" y2="17.5" stroke="#656a65" stroke-width="0.7"/><line x1="20.7" y1="51.6" x2="18.9" y2="52.6" stroke="#4f544f" stroke-width="0.7"/><line x1="50.4" y1="43.2" x2="52.6" y2="44.4" stroke="#7c817c" stroke-width="0.7"/><line x1="15.0" y1="23.6" x2="14.1" y2="21.3" stroke="#7c817c" stroke-width="0.7"/><line x1="24.7" y1="26.0" x2="24.1" y2="25.0" stroke="#656a65" stroke-width="0.7"/><line x1="33.3" y1="24.2" x2="33.4" y2="25.7" stroke="#656a65" stroke-width="0.7"/><line x1="35.6" y1="24.9" x2="35.3" y2="26.4" stroke="#656a65" stroke-width="0.7"/><line x1="36.2" y1="33.0" x2="36.4" y2="35.2" stroke="#656a65" stroke-width="0.7"/><line x1="48.1" y1="26.5" x2="48.6" y2="25.4" stroke="#4f544f" stroke-width="0.7"/><line x1="24.4" y1="43.8" x2="23.4" y2="44.1" stroke="#ffffff" stroke-width="0.7"/><line x1="42.2" y1="23.2" x2="43.0" y2="21.7" stroke="#8e938e" stroke-width="0.7"/><line x1="31.1" y1="63.2" x2="30.6" y2="64.6" stroke="#7c817c" stroke-width="0.7"/><line x1="38.8" y1="58.4" x2="39.4" y2="60.0" stroke="#ffffff" stroke-width="0.7"/><line x1="57.0" y1="46.5" x2="58.7" y2="47.0" stroke="#8e938e" stroke-width="0.7"/><line x1="28.5" y1="50.8" x2="28.6" y2="51.9" stroke="#8e938e" stroke-width="0.7"/><line x1="19.2" y1="37.0" x2="18.3" y2="36.4" stroke="#8e938e" stroke-width="0.7"/><line x1="52.9" y1="16.9" x2="55.2" y2="15.7" stroke="#ffffff" stroke-width="0.7"/><line x1="10.4" y1="45.3" x2="9.0" y2="46.2" stroke="#7c817c" stroke-width="0.7"/><line x1="19.9" y1="24.4" x2="19.4" y2="23.2" stroke="#8e938e" stroke-width="0.7"/><line x1="57.5" y1="43.1" x2="59.8" y2="42.9" stroke="#656a65" stroke-width="0.7"/><line x1="36.4" y1="53.6" x2="36.0" y2="55.2" stroke="#4f544f" stroke-width="0.7"/><line x1="33.2" y1="63.1" x2="32.3" y2="65.5" stroke="#8e938e" stroke-width="0.7"/><line x1="30.5" y1="12.5" x2="30.1" y2="11.3" stroke="#ffffff" stroke-width="0.7"/><line x1="53.0" y1="30.8" x2="54.3" y2="30.3" stroke="#7c817c" stroke-width="0.7"/><line x1="7.2" y1="33.4" x2="6.0" y2="32.9" stroke="#ffffff" stroke-width="0.7"/><line x1="52.6" y1="48.1" x2="54.3" y2="48.0" stroke="#656a65" stroke-width="0.7"/><line x1="50.6" y1="18.7" x2="51.1" y2="17.5" stroke="#ffffff" stroke-width="0.7"/><line x1="23.5" y1="31.6" x2="22.0" y2="30.4" stroke="#ffffff" stroke-width="0.7"/><line x1="20.8" y1="36.3" x2="19.1" y2="36.0" stroke="#ffffff" stroke-width="0.7"/><line x1="50.7" y1="42.3" x2="52.2" y2="42.2" stroke="#8e938e" stroke-width="0.7"/><line x1="13.1" y1="42.3" x2="11.9" y2="42.7" stroke="#4f544f" stroke-width="0.7"/><line x1="23.2" y1="28.1" x2="22.2" y2="27.4" stroke="#ffffff" stroke-width="0.7"/><line x1="22.1" y1="49.9" x2="20.6" y2="50.8" stroke="#8e938e" stroke-width="0.7"/><line x1="51.8" y1="34.4" x2="53.8" y2="33.7" stroke="#ffffff" stroke-width="0.7"/><line x1="10.3" y1="46.4" x2="9.3" y2="46.3" stroke="#656a65" stroke-width="0.7"/><line x1="21.6" y1="40.9" x2="19.3" y2="41.2" stroke="#656a65" stroke-width="0.7"/><line x1="36.3" y1="29.4" x2="36.5" y2="30.5" stroke="#4f544f" stroke-width="0.7"/><line x1="18.1" y1="37.5" x2="16.3" y2="37.8" stroke="#7c817c" stroke-width="0.7"/><line x1="42.2" y1="34.4" x2="43.3" y2="33.3" stroke="#8e938e" stroke-width="0.7"/><line x1="37.3" y1="60.3" x2="38.9" y2="61.9" stroke="#4f544f" stroke-width="0.7"/><line x1="23.9" y1="64.1" x2="23.4" y2="65.4" stroke="#7c817c" stroke-width="0.7"/><line x1="19.0" y1="35.7" x2="18.0" y2="34.4" stroke="#4f544f" stroke-width="0.7"/><line x1="12.7" y1="6.0" x2="11.7" y2="5.1" stroke="#4f544f" stroke-width="0.7"/><line x1="51.0" y1="12.1" x2="51.8" y2="11.4" stroke="#ffffff" stroke-width="0.7"/><line x1="56.7" y1="28.2" x2="58.1" y2="26.3" stroke="#656a65" stroke-width="0.7"/><line x1="40.2" y1="47.7" x2="42.5" y2="48.9" stroke="#ffffff" stroke-width="0.7"/><line x1="21.5" y1="29.8" x2="20.2" y2="28.5" stroke="#4f544f" stroke-width="0.7"/><line x1="11.6" y1="14.2" x2="10.3" y2="13.4" stroke="#4f544f" stroke-width="0.7"/><line x1="29.4" y1="44.3" x2="28.9" y2="46.5" stroke="#8e938e" stroke-width="0.7"/><line x1="52.2" y1="41.1" x2="54.6" y2="40.9" stroke="#8e938e" stroke-width="0.7"/><line x1="51.9" y1="37.1" x2="53.9" y2="36.6" stroke="#656a65" stroke-width="0.7"/><line x1="52.9" y1="55.4" x2="53.8" y2="56.0" stroke="#7c817c" stroke-width="0.7"/><line x1="27.3" y1="47.5" x2="27.2" y2="49.7" stroke="#ffffff" stroke-width="0.7"/><line x1="22.0" y1="34.6" x2="20.1" y2="32.9" stroke="#656a65" stroke-width="0.7"/><line x1="20.9" y1="27.6" x2="19.0" y2="26.1" stroke="#8e938e" stroke-width="0.7"/><line x1="45.4" y1="23.6" x2="46.5" y2="22.7" stroke="#8e938e" stroke-width="0.7"/><line x1="22.2" y1="41.0" x2="19.7" y2="40.6" stroke="#4f544f" stroke-width="0.7"/><line x1="32.5" y1="58.3" x2="33.3" y2="59.8" stroke="#4f544f" stroke-width="0.7"/><line x1="37.8" y1="63.7" x2="38.1" y2="65.3" stroke="#4f544f" stroke-width="0.7"/><line x1="29.2" y1="51.4" x2="29.5" y2="53.5" stroke="#7c817c" stroke-width="0.7"/><line x1="6.4" y1="35.6" x2="5.2" y2="35.0" stroke="#7c817c" stroke-width="0.7"/><line x1="18.3" y1="27.2" x2="17.5" y2="24.8" stroke="#8e938e" stroke-width="0.7"/><line x1="28.2" y1="40.9" x2="27.8" y2="43.1" stroke="#ffffff" stroke-width="0.7"/><line x1="42.4" y1="23.6" x2="43.8" y2="22.0" stroke="#4f544f" stroke-width="0.7"/><line x1="53.5" y1="22.1" x2="55.5" y2="20.6" stroke="#656a65" stroke-width="0.7"/><line x1="23.2" y1="59.9" x2="22.2" y2="60.9" stroke="#8e938e" stroke-width="0.7"/><line x1="30.7" y1="33.9" x2="30.4" y2="36.0" stroke="#7c817c" stroke-width="0.7"/><line x1="55.4" y1="43.4" x2="57.2" y2="44.4" stroke="#4f544f" stroke-width="0.7"/><line x1="42.6" y1="59.0" x2="43.5" y2="59.9" stroke="#656a65" stroke-width="0.7"/><line x1="31.3" y1="55.4" x2="31.6" y2="57.9" stroke="#656a65" stroke-width="0.7"/><line x1="14.0" y1="30.3" x2="12.7" y2="29.5" stroke="#4f544f" stroke-width="0.7"/><line x1="49.2" y1="17.8" x2="50.4" y2="15.8" stroke="#656a65" stroke-width="0.7"/><line x1="45.1" y1="39.7" x2="46.4" y2="39.3" stroke="#656a65" stroke-width="0.7"/><line x1="59.3" y1="33.9" x2="61.2" y2="34.2" stroke="#4f544f" stroke-width="0.7"/><line x1="36.6" y1="53.8" x2="36.5" y2="55.1" stroke="#4f544f" stroke-width="0.7"/><line x1="25.4" y1="39.2" x2="24.4" y2="39.0" stroke="#656a65" stroke-width="0.7"/><line x1="30.2" y1="67.1" x2="30.2" y2="68.7" stroke="#7c817c" stroke-width="0.7"/><line x1="31.7" y1="65.2" x2="32.5" y2="67.6" stroke="#656a65" stroke-width="0.7"/><line x1="23.8" y1="43.1" x2="21.4" y2="44.0" stroke="#656a65" stroke-width="0.7"/><line x1="46.8" y1="41.9" x2="48.1" y2="41.8" stroke="#4f544f" stroke-width="0.7"/><line x1="13.6" y1="36.5" x2="11.3" y2="36.7" stroke="#4f544f" stroke-width="0.7"/><line x1="27.4" y1="63.4" x2="26.8" y2="65.6" stroke="#4f544f" stroke-width="0.7"/><line x1="44.5" y1="28.1" x2="45.5" y2="27.8" stroke="#8e938e" stroke-width="0.7"/><line x1="47.9" y1="39.5" x2="50.3" y2="38.8" stroke="#7c817c" stroke-width="0.7"/><line x1="35.9" y1="13.1" x2="35.6" y2="11.9" stroke="#4f544f" stroke-width="0.7"/><line x1="10.6" y1="36.2" x2="8.8" y2="35.6" stroke="#ffffff" stroke-width="0.7"/><line x1="30.6" y1="53.0" x2="30.4" y2="54.4" stroke="#656a65" stroke-width="0.7"/><line x1="54.4" y1="18.4" x2="55.0" y2="16.8" stroke="#ffffff" stroke-width="0.7"/><line x1="28.3" y1="34.4" x2="29.0" y2="36.9" stroke="#4f544f" stroke-width="0.7"/><line x1="29.9" y1="36.2" x2="29.4" y2="38.1" stroke="#656a65" stroke-width="0.7"/><line x1="13.1" y1="19.7" x2="12.4" y2="18.3" stroke="#4f544f" stroke-width="0.7"/><line x1="28.0" y1="23.0" x2="27.9" y2="25.5" stroke="#656a65" stroke-width="0.7"/><line x1="45.3" y1="13.7" x2="46.2" y2="11.4" stroke="#4f544f" stroke-width="0.7"/><line x1="46.6" y1="31.2" x2="47.2" y2="30.3" stroke="#4f544f" stroke-width="0.7"/><line x1="49.0" y1="57.7" x2="49.7" y2="58.9" stroke="#4f544f" stroke-width="0.7"/><line x1="14.7" y1="29.1" x2="13.6" y2="28.7" stroke="#7c817c" stroke-width="0.7"/><line x1="26.4" y1="48.8" x2="26.5" y2="50.1" stroke="#4f544f" stroke-width="0.7"/><line x1="44.9" y1="19.2" x2="45.2" y2="16.7" stroke="#8e938e" stroke-width="0.7"/><line x1="53.4" y1="21.9" x2="55.6" y2="21.1" stroke="#ffffff" stroke-width="0.7"/><line x1="28.9" y1="46.9" x2="29.2" y2="48.1" stroke="#4f544f" stroke-width="0.7"/><line x1="52.1" y1="55.7" x2="54.4" y2="56.1" stroke="#656a65" stroke-width="0.7"/><line x1="3.5" y1="41.6" x2="2.0" y2="41.3" stroke="#7c817c" stroke-width="0.7"/><line x1="26.8" y1="58.3" x2="26.9" y2="60.0" stroke="#656a65" stroke-width="0.7"/><line x1="47.9" y1="60.8" x2="48.6" y2="61.9" stroke="#7c817c" stroke-width="0.7"/><line x1="25.1" y1="47.7" x2="24.7" y2="48.7" stroke="#7c817c" stroke-width="0.7"/><line x1="39.0" y1="59.6" x2="39.2" y2="61.5" stroke="#8e938e" stroke-width="0.7"/><line x1="29.2" y1="66.9" x2="28.3" y2="69.0" stroke="#8e938e" stroke-width="0.7"/><line x1="13.0" y1="37.3" x2="11.5" y2="36.9" stroke="#7c817c" stroke-width="0.7"/><line x1="23.4" y1="40.0" x2="21.9" y2="38.7" stroke="#8e938e" stroke-width="0.7"/><line x1="28.4" y1="42.6" x2="28.8" y2="44.1" stroke="#4f544f" stroke-width="0.7"/><line x1="50.8" y1="49.9" x2="52.1" y2="50.4" stroke="#8e938e" stroke-width="0.7"/><line x1="35.8" y1="39.0" x2="36.1" y2="41.3" stroke="#4f544f" stroke-width="0.7"/><line x1="54.0" y1="34.8" x2="55.4" y2="34.7" stroke="#ffffff" stroke-width="0.7"/><line x1="56.9" y1="50.2" x2="58.0" y2="50.5" stroke="#7c817c" stroke-width="0.7"/><line x1="48.4" y1="16.1" x2="49.1" y2="13.9" stroke="#7c817c" stroke-width="0.7"/><line x1="34.6" y1="47.6" x2="34.0" y2="49.8" stroke="#656a65" stroke-width="0.7"/><line x1="22.5" y1="34.1" x2="21.1" y2="32.4" stroke="#656a65" stroke-width="0.7"/><line x1="32.2" y1="27.1" x2="32.4" y2="28.9" stroke="#656a65" stroke-width="0.7"/><line x1="57.3" y1="31.9" x2="58.6" y2="31.2" stroke="#656a65" stroke-width="0.7"/><line x1="47.0" y1="26.0" x2="47.7" y2="24.0" stroke="#656a65" stroke-width="0.7"/><line x1="21.9" y1="59.9" x2="20.6" y2="61.0" stroke="#656a65" stroke-width="0.7"/><line x1="10.1" y1="55.3" x2="9.0" y2="55.9" stroke="#7c817c" stroke-width="0.7"/><line x1="29.0" y1="29.0" x2="28.9" y2="30.4" stroke="#4f544f" stroke-width="0.7"/><line x1="25.9" y1="14.6" x2="26.0" y2="12.5" stroke="#4f544f" stroke-width="0.7"/><line x1="50.2" y1="24.6" x2="51.9" y2="23.5" stroke="#656a65" stroke-width="0.7"/><line x1="13.7" y1="41.4" x2="12.3" y2="41.3" stroke="#4f544f" stroke-width="0.7"/><line x1="38.7" y1="41.1" x2="39.7" y2="40.7" stroke="#7c817c" stroke-width="0.7"/><line x1="34.1" y1="59.8" x2="34.9" y2="61.3" stroke="#656a65" stroke-width="0.7"/><line x1="14.0" y1="23.2" x2="12.9" y2="22.1" stroke="#656a65" stroke-width="0.7"/><line x1="15.9" y1="60.2" x2="15.0" y2="62.0" stroke="#ffffff" stroke-width="0.7"/><line x1="41.8" y1="37.3" x2="43.2" y2="36.8" stroke="#ffffff" stroke-width="0.7"/><line x1="51.2" y1="34.6" x2="52.3" y2="34.7" stroke="#ffffff" stroke-width="0.7"/><line x1="30.5" y1="42.7" x2="30.9" y2="44.7" stroke="#ffffff" stroke-width="0.7"/><line x1="36.2" y1="28.3" x2="36.0" y2="29.5" stroke="#7c817c" stroke-width="0.7"/><line x1="50.1" y1="52.9" x2="51.0" y2="54.1" stroke="#656a65" stroke-width="0.7"/><line x1="30.1" y1="64.5" x2="30.2" y2="66.1" stroke="#656a65" stroke-width="0.7"/><line x1="6.6" y1="37.9" x2="5.2" y2="38.2" stroke="#8e938e" stroke-width="0.7"/><line x1="23.6" y1="24.8" x2="23.0" y2="23.0" stroke="#7c817c" stroke-width="0.7"/><line x1="50.3" y1="44.0" x2="52.5" y2="44.8" stroke="#7c817c" stroke-width="0.7"/><line x1="43.3" y1="38.2" x2="44.7" y2="37.4" stroke="#4f544f" stroke-width="0.7"/><line x1="22.3" y1="30.4" x2="22.0" y2="28.9" stroke="#ffffff" stroke-width="0.7"/><line x1="13.0" y1="38.1" x2="11.6" y2="38.1" stroke="#656a65" stroke-width="0.7"/><line x1="52.1" y1="33.1" x2="53.7" y2="33.0" stroke="#4f544f" stroke-width="0.7"/><line x1="44.6" y1="35.8" x2="45.8" y2="35.2" stroke="#656a65" stroke-width="0.7"/><line x1="57.4" y1="21.7" x2="59.1" y2="20.5" stroke="#8e938e" stroke-width="0.7"/><line x1="19.9" y1="15.7" x2="19.5" y2="13.2" stroke="#656a65" stroke-width="0.7"/><line x1="32.6" y1="39.4" x2="32.8" y2="40.5" stroke="#4f544f" stroke-width="0.7"/><line x1="5.3" y1="44.5" x2="3.2" y2="44.5" stroke="#8e938e" stroke-width="0.7"/><line x1="48.1" y1="20.2" x2="49.1" y2="19.5" stroke="#8e938e" stroke-width="0.7"/><line x1="15.2" y1="7.9" x2="14.5" y2="6.7" stroke="#656a65" stroke-width="0.7"/><line x1="4.8" y1="44.4" x2="3.6" y2="45.0" stroke="#7c817c" stroke-width="0.7"/><line x1="44.3" y1="22.4" x2="45.1" y2="21.7" stroke="#656a65" stroke-width="0.7"/><line x1="52.5" y1="21.1" x2="54.7" y2="20.3" stroke="#7c817c" stroke-width="0.7"/><line x1="15.0" y1="8.2" x2="14.2" y2="6.4" stroke="#656a65" stroke-width="0.7"/><line x1="25.2" y1="38.9" x2="23.0" y2="38.2" stroke="#656a65" stroke-width="0.7"/><line x1="33.7" y1="11.1" x2="33.5" y2="10.0" stroke="#4f544f" stroke-width="0.7"/><line x1="24.3" y1="36.7" x2="23.4" y2="36.1" stroke="#7c817c" stroke-width="0.7"/><line x1="26.5" y1="12.9" x2="26.0" y2="10.5" stroke="#ffffff" stroke-width="0.7"/><line x1="10.3" y1="54.0" x2="9.2" y2="54.7" stroke="#8e938e" stroke-width="0.7"/><line x1="43.1" y1="18.9" x2="44.4" y2="16.8" stroke="#7c817c" stroke-width="0.7"/><line x1="24.9" y1="41.3" x2="23.2" y2="41.7" stroke="#4f544f" stroke-width="0.7"/><line x1="57.6" y1="22.6" x2="58.7" y2="22.2" stroke="#8e938e" stroke-width="0.7"/><line x1="39.7" y1="44.6" x2="41.9" y2="44.5" stroke="#7c817c" stroke-width="0.7"/><line x1="30.8" y1="58.7" x2="30.4" y2="60.4" stroke="#4f544f" stroke-width="0.7"/><line x1="42.5" y1="31.5" x2="43.2" y2="30.5" stroke="#8e938e" stroke-width="0.7"/><line x1="55.5" y1="13.0" x2="56.4" y2="12.0" stroke="#8e938e" stroke-width="0.7"/><line x1="29.3" y1="62.5" x2="29.0" y2="63.6" stroke="#ffffff" stroke-width="0.7"/><line x1="48.0" y1="17.5" x2="49.2" y2="15.9" stroke="#7c817c" stroke-width="0.7"/><line x1="20.3" y1="19.2" x2="20.1" y2="18.1" stroke="#8e938e" stroke-width="0.7"/><line x1="5.7" y1="35.3" x2="4.2" y2="35.3" stroke="#ffffff" stroke-width="0.7"/><line x1="14.7" y1="18.5" x2="13.3" y2="16.8" stroke="#4f544f" stroke-width="0.7"/><line x1="29.8" y1="35.3" x2="30.2" y2="36.6" stroke="#7c817c" stroke-width="0.7"/><line x1="27.2" y1="65.3" x2="27.0" y2="66.8" stroke="#4f544f" stroke-width="0.7"/><line x1="40.8" y1="56.9" x2="41.5" y2="58.8" stroke="#8e938e" stroke-width="0.7"/><line x1="54.8" y1="34.4" x2="56.2" y2="33.4" stroke="#ffffff" stroke-width="0.7"/><line x1="17.1" y1="35.2" x2="15.8" y2="35.1" stroke="#656a65" stroke-width="0.7"/><line x1="57.7" y1="31.5" x2="60.1" y2="30.9" stroke="#656a65" stroke-width="0.7"/><line x1="21.4" y1="42.6" x2="20.3" y2="42.9" stroke="#4f544f" stroke-width="0.7"/><line x1="36.0" y1="57.0" x2="37.3" y2="58.7" stroke="#4f544f" stroke-width="0.7"/><line x1="7.8" y1="33.6" x2="6.2" y2="33.0" stroke="#4f544f" stroke-width="0.7"/><line x1="28.7" y1="17.5" x2="28.3" y2="19.0" stroke="#ffffff" stroke-width="0.7"/><line x1="26.0" y1="53.4" x2="25.6" y2="54.5" stroke="#4f544f" stroke-width="0.7"/><line x1="43.0" y1="19.9" x2="44.0" y2="19.1" stroke="#ffffff" stroke-width="0.7"/><line x1="50.3" y1="20.8" x2="51.0" y2="19.1" stroke="#ffffff" stroke-width="0.7"/><line x1="55.3" y1="10.4" x2="55.5" y2="9.2" stroke="#8e938e" stroke-width="0.7"/><line x1="29.3" y1="64.3" x2="29.5" y2="66.2" stroke="#4f544f" stroke-width="0.7"/><line x1="26.7" y1="36.4" x2="26.3" y2="38.7" stroke="#7c817c" stroke-width="0.7"/><line x1="8.4" y1="34.2" x2="7.1" y2="34.4" stroke="#656a65" stroke-width="0.7"/><line x1="29.1" y1="41.8" x2="29.4" y2="44.4" stroke="#8e938e" stroke-width="0.7"/><line x1="39.4" y1="60.7" x2="40.2" y2="61.5" stroke="#656a65" stroke-width="0.7"/><line x1="32.8" y1="14.7" x2="32.8" y2="16.1" stroke="#8e938e" stroke-width="0.7"/><line x1="21.5" y1="39.4" x2="19.8" y2="38.8" stroke="#4f544f" stroke-width="0.7"/><line x1="52.9" y1="35.7" x2="53.9" y2="35.1" stroke="#8e938e" stroke-width="0.7"/><line x1="54.9" y1="21.8" x2="55.8" y2="20.7" stroke="#8e938e" stroke-width="0.7"/><line x1="53.7" y1="43.6" x2="56.3" y2="43.0" stroke="#656a65" stroke-width="0.7"/><line x1="53.4" y1="39.9" x2="55.5" y2="38.8" stroke="#656a65" stroke-width="0.7"/><line x1="23.8" y1="48.9" x2="22.9" y2="49.8" stroke="#4f544f" stroke-width="0.7"/><line x1="42.4" y1="38.0" x2="44.6" y2="36.9" stroke="#ffffff" stroke-width="0.7"/><line x1="25.8" y1="30.9" x2="24.6" y2="29.2" stroke="#7c817c" stroke-width="0.7"/><line x1="26.6" y1="40.7" x2="26.5" y2="42.0" stroke="#656a65" stroke-width="0.7"/><line x1="55.4" y1="18.4" x2="57.2" y2="17.2" stroke="#656a65" stroke-width="0.7"/><line x1="20.6" y1="27.1" x2="19.8" y2="24.9" stroke="#8e938e" stroke-width="0.7"/><line x1="44.2" y1="13.6" x2="44.3" y2="11.7" stroke="#656a65" stroke-width="0.7"/><line x1="31.6" y1="60.8" x2="31.5" y2="62.0" stroke="#8e938e" stroke-width="0.7"/><line x1="14.8" y1="59.7" x2="13.4" y2="61.6" stroke="#7c817c" stroke-width="0.7"/><line x1="14.5" y1="33.7" x2="12.7" y2="33.0" stroke="#4f544f" stroke-width="0.7"/><line x1="26.6" y1="18.4" x2="26.5" y2="20.1" stroke="#ffffff" stroke-width="0.7"/><line x1="38.4" y1="36.3" x2="39.2" y2="35.1" stroke="#4f544f" stroke-width="0.7"/><line x1="36.3" y1="57.3" x2="37.4" y2="58.8" stroke="#7c817c" stroke-width="0.7"/><line x1="22.8" y1="12.9" x2="21.1" y2="11.0" stroke="#7c817c" stroke-width="0.7"/><line x1="53.6" y1="40.5" x2="56.0" y2="39.9" stroke="#7c817c" stroke-width="0.7"/><line x1="16.8" y1="52.6" x2="15.8" y2="53.6" stroke="#ffffff" stroke-width="0.7"/><line x1="51.3" y1="32.3" x2="53.3" y2="31.2" stroke="#7c817c" stroke-width="0.7"/><line x1="11.6" y1="9.7" x2="10.9" y2="7.7" stroke="#656a65" stroke-width="0.7"/><line x1="12.4" y1="24.7" x2="11.4" y2="23.2" stroke="#4f544f" stroke-width="0.7"/><line x1="41.7" y1="13.8" x2="42.6" y2="12.9" stroke="#4f544f" stroke-width="0.7"/><line x1="27.1" y1="25.1" x2="27.0" y2="26.7" stroke="#4f544f" stroke-width="0.7"/><line x1="42.6" y1="36.4" x2="44.2" y2="35.1" stroke="#ffffff" stroke-width="0.7"/><line x1="13.4" y1="24.8" x2="12.3" y2="24.5" stroke="#4f544f" stroke-width="0.7"/><line x1="32.3" y1="35.5" x2="32.4" y2="36.7" stroke="#ffffff" stroke-width="0.7"/><line x1="25.3" y1="19.8" x2="25.1" y2="18.7" stroke="#8e938e" stroke-width="0.7"/><line x1="6.5" y1="46.8" x2="4.8" y2="47.1" stroke="#8e938e" stroke-width="0.7"/><line x1="39.5" y1="61.2" x2="39.3" y2="63.4" stroke="#4f544f" stroke-width="0.7"/><line x1="40.0" y1="30.6" x2="41.3" y2="29.1" stroke="#4f544f" stroke-width="0.7"/><line x1="16.3" y1="41.2" x2="14.9" y2="41.3" stroke="#8e938e" stroke-width="0.7"/><line x1="40.7" y1="24.6" x2="41.9" y2="22.4" stroke="#8e938e" stroke-width="0.7"/><line x1="26.4" y1="62.3" x2="25.3" y2="64.1" stroke="#ffffff" stroke-width="0.7"/><line x1="30.4" y1="39.6" x2="30.0" y2="42.1" stroke="#8e938e" stroke-width="0.7"/><line x1="48.4" y1="22.7" x2="49.4" y2="22.2" stroke="#7c817c" stroke-width="0.7"/><line x1="21.1" y1="61.6" x2="21.0" y2="63.9" stroke="#4f544f" stroke-width="0.7"/><line x1="17.3" y1="51.8" x2="15.3" y2="52.6" stroke="#8e938e" stroke-width="0.7"/><line x1="50.8" y1="43.8" x2="53.0" y2="43.2" stroke="#4f544f" stroke-width="0.7"/><line x1="16.3" y1="37.1" x2="14.8" y2="36.8" stroke="#ffffff" stroke-width="0.7"/><line x1="11.5" y1="40.0" x2="9.2" y2="39.1" stroke="#4f544f" stroke-width="0.7"/><line x1="34.8" y1="56.1" x2="35.6" y2="57.1" stroke="#4f544f" stroke-width="0.7"/><line x1="26.2" y1="39.3" x2="25.9" y2="40.3" stroke="#7c817c" stroke-width="0.7"/><line x1="61.4" y1="38.8" x2="63.4" y2="37.6" stroke="#ffffff" stroke-width="0.7"/><line x1="33.5" y1="11.7" x2="34.3" y2="9.6" stroke="#656a65" stroke-width="0.7"/><line x1="20.3" y1="63.4" x2="20.1" y2="65.8" stroke="#7c817c" stroke-width="0.7"/><line x1="51.0" y1="45.1" x2="53.3" y2="46.3" stroke="#7c817c" stroke-width="0.7"/><line x1="9.6" y1="48.0" x2="7.4" y2="48.7" stroke="#8e938e" stroke-width="0.7"/><line x1="35.8" y1="11.2" x2="36.9" y2="9.1" stroke="#656a65" stroke-width="0.7"/><line x1="21.3" y1="52.4" x2="19.4" y2="53.6" stroke="#8e938e" stroke-width="0.7"/><line x1="23.0" y1="61.8" x2="22.9" y2="62.9" stroke="#4f544f" stroke-width="0.7"/><line x1="6.0" y1="47.4" x2="4.9" y2="48.2" stroke="#4f544f" stroke-width="0.7"/><line x1="57.7" y1="29.8" x2="58.6" y2="29.3" stroke="#7c817c" stroke-width="0.7"/><line x1="13.3" y1="42.0" x2="11.7" y2="42.1" stroke="#ffffff" stroke-width="0.7"/><line x1="35.1" y1="49.6" x2="35.5" y2="51.1" stroke="#7c817c" stroke-width="0.7"/><line x1="27.6" y1="21.9" x2="28.0" y2="23.5" stroke="#ffffff" stroke-width="0.7"/><line x1="18.6" y1="60.8" x2="17.4" y2="62.0" stroke="#ffffff" stroke-width="0.7"/><line x1="29.3" y1="31.1" x2="29.3" y2="32.7" stroke="#656a65" stroke-width="0.7"/><line x1="33.1" y1="54.3" x2="33.5" y2="55.9" stroke="#4f544f" stroke-width="0.7"/><line x1="31.8" y1="28.0" x2="31.3" y2="30.4" stroke="#ffffff" stroke-width="0.7"/><line x1="42.3" y1="39.9" x2="43.5" y2="39.9" stroke="#ffffff" stroke-width="0.7"/><line x1="43.6" y1="22.9" x2="44.3" y2="21.7" stroke="#ffffff" stroke-width="0.7"/><line x1="54.8" y1="21.6" x2="56.9" y2="20.8" stroke="#8e938e" stroke-width="0.7"/><line x1="31.5" y1="67.6" x2="32.4" y2="69.9" stroke="#8e938e" stroke-width="0.7"/><line x1="57.6" y1="30.1" x2="58.6" y2="30.2" stroke="#8e938e" stroke-width="0.7"/><line x1="54.1" y1="27.4" x2="55.4" y2="27.1" stroke="#4f544f" stroke-width="0.7"/><line x1="30.9" y1="30.0" x2="31.3" y2="32.2" stroke="#4f544f" stroke-width="0.7"/><line x1="14.6" y1="27.5" x2="13.0" y2="26.4" stroke="#ffffff" stroke-width="0.7"/><line x1="41.8" y1="26.9" x2="42.0" y2="25.8" stroke="#8e938e" stroke-width="0.7"/><line x1="43.6" y1="40.8" x2="45.0" y2="40.8" stroke="#8e938e" stroke-width="0.7"/><line x1="21.7" y1="28.2" x2="21.4" y2="26.1" stroke="#4f544f" stroke-width="0.7"/><line x1="22.8" y1="55.2" x2="22.1" y2="57.3" stroke="#ffffff" stroke-width="0.7"/><line x1="59.4" y1="29.8" x2="60.9" y2="28.2" stroke="#656a65" stroke-width="0.7"/><line x1="36.5" y1="46.5" x2="36.7" y2="47.6" stroke="#ffffff" stroke-width="0.7"/><line x1="21.4" y1="60.6" x2="20.6" y2="62.5" stroke="#7c817c" stroke-width="0.7"/><line x1="29.4" y1="17.8" x2="29.7" y2="19.1" stroke="#ffffff" stroke-width="0.7"/><line x1="50.1" y1="11.1" x2="51.7" y2="9.4" stroke="#8e938e" stroke-width="0.7"/><line x1="23.9" y1="20.6" x2="22.6" y2="18.7" stroke="#8e938e" stroke-width="0.7"/><line x1="22.1" y1="17.7" x2="22.0" y2="16.7" stroke="#ffffff" stroke-width="0.7"/><line x1="45.6" y1="31.3" x2="47.0" y2="30.5" stroke="#ffffff" stroke-width="0.7"/><line x1="47.7" y1="25.8" x2="49.4" y2="24.8" stroke="#ffffff" stroke-width="0.7"/><line x1="38.0" y1="53.2" x2="38.8" y2="55.1" stroke="#7c817c" stroke-width="0.7"/><line x1="32.9" y1="31.6" x2="32.7" y2="33.5" stroke="#656a65" stroke-width="0.7"/><line x1="50.9" y1="16.8" x2="51.5" y2="16.0" stroke="#7c817c" stroke-width="0.7"/><line x1="55.8" y1="21.4" x2="56.8" y2="20.5" stroke="#656a65" stroke-width="0.7"/><line x1="9.7" y1="30.1" x2="8.1" y2="29.7" stroke="#8e938e" stroke-width="0.7"/><line x1="16.6" y1="37.0" x2="14.2" y2="36.8" stroke="#7c817c" stroke-width="0.7"/><line x1="50.5" y1="48.1" x2="52.5" y2="48.5" stroke="#4f544f" stroke-width="0.7"/><line x1="14.7" y1="17.6" x2="14.2" y2="16.3" stroke="#7c817c" stroke-width="0.7"/><line x1="16.5" y1="41.3" x2="15.0" y2="41.3" stroke="#8e938e" stroke-width="0.7"/><line x1="34.1" y1="57.8" x2="35.1" y2="59.2" stroke="#8e938e" stroke-width="0.7"/><line x1="52.2" y1="40.2" x2="53.7" y2="40.0" stroke="#656a65" stroke-width="0.7"/><line x1="13.0" y1="37.6" x2="10.9" y2="37.9" stroke="#ffffff" stroke-width="0.7"/><line x1="23.1" y1="35.9" x2="22.2" y2="35.0" stroke="#656a65" stroke-width="0.7"/><line x1="34.9" y1="13.9" x2="35.3" y2="12.8" stroke="#8e938e" stroke-width="0.7"/><line x1="9.8" y1="27.6" x2="8.0" y2="26.9" stroke="#7c817c" stroke-width="0.7"/><line x1="31.0" y1="65.4" x2="31.2" y2="67.0" stroke="#7c817c" stroke-width="0.7"/><line x1="32.2" y1="15.5" x2="32.2" y2="18.1" stroke="#ffffff" stroke-width="0.7"/><line x1="47.7" y1="23.6" x2="49.0" y2="22.5" stroke="#8e938e" stroke-width="0.7"/><line x1="25.4" y1="56.6" x2="24.5" y2="58.7" stroke="#7c817c" stroke-width="0.7"/><line x1="22.7" y1="41.5" x2="20.6" y2="42.1" stroke="#4f544f" stroke-width="0.7"/><line x1="28.9" y1="42.5" x2="28.7" y2="43.9" stroke="#4f544f" stroke-width="0.7"/><line x1="27.1" y1="40.5" x2="27.1" y2="41.9" stroke="#ffffff" stroke-width="0.7"/><line x1="13.9" y1="12.0" x2="13.1" y2="10.2" stroke="#656a65" stroke-width="0.7"/><line x1="32.1" y1="26.6" x2="31.7" y2="28.3" stroke="#4f544f" stroke-width="0.7"/><line x1="32.9" y1="41.7" x2="32.4" y2="44.1" stroke="#ffffff" stroke-width="0.7"/><line x1="45.9" y1="35.5" x2="47.0" y2="35.0" stroke="#8e938e" stroke-width="0.7"/><line x1="26.7" y1="61.6" x2="26.0" y2="64.0" stroke="#7c817c" stroke-width="0.7"/><line x1="42.7" y1="40.8" x2="44.5" y2="41.2" stroke="#8e938e" stroke-width="0.7"/><line x1="12.1" y1="37.2" x2="10.9" y2="37.4" stroke="#656a65" stroke-width="0.7"/><line x1="32.0" y1="61.8" x2="31.5" y2="63.9" stroke="#ffffff" stroke-width="0.7"/><line x1="36.6" y1="42.5" x2="36.4" y2="43.7" stroke="#7c817c" stroke-width="0.7"/><line x1="36.7" y1="16.2" x2="36.9" y2="18.6" stroke="#656a65" stroke-width="0.7"/><line x1="49.3" y1="24.7" x2="51.2" y2="23.0" stroke="#8e938e" stroke-width="0.7"/><line x1="32.6" y1="53.5" x2="32.5" y2="54.7" stroke="#ffffff" stroke-width="0.7"/><line x1="15.9" y1="37.3" x2="14.7" y2="37.0" stroke="#7c817c" stroke-width="0.7"/><line x1="47.6" y1="28.9" x2="49.0" y2="27.5" stroke="#7c817c" stroke-width="0.7"/><line x1="46.8" y1="61.2" x2="48.0" y2="63.3" stroke="#656a65" stroke-width="0.7"/><line x1="55.2" y1="18.4" x2="56.3" y2="16.6" stroke="#ffffff" stroke-width="0.7"/><line x1="12.3" y1="56.9" x2="11.2" y2="58.0" stroke="#ffffff" stroke-width="0.7"/><line x1="28.0" y1="16.7" x2="27.8" y2="18.4" stroke="#8e938e" stroke-width="0.7"/><line x1="31.3" y1="62.6" x2="30.4" y2="64.4" stroke="#4f544f" stroke-width="0.7"/><line x1="27.0" y1="36.2" x2="26.6" y2="38.8" stroke="#8e938e" stroke-width="0.7"/><line x1="15.1" y1="25.3" x2="14.1" y2="24.2" stroke="#ffffff" stroke-width="0.7"/><line x1="40.4" y1="59.5" x2="40.8" y2="61.2" stroke="#4f544f" stroke-width="0.7"/><line x1="21.6" y1="43.2" x2="20.2" y2="44.0" stroke="#8e938e" stroke-width="0.7"/><line x1="11.6" y1="36.0" x2="10.2" y2="35.0" stroke="#7c817c" stroke-width="0.7"/><line x1="37.0" y1="13.6" x2="37.0" y2="11.6" stroke="#8e938e" stroke-width="0.7"/><line x1="45.1" y1="32.4" x2="46.5" y2="31.8" stroke="#ffffff" stroke-width="0.7"/><line x1="29.3" y1="61.6" x2="28.9" y2="62.8" stroke="#7c817c" stroke-width="0.7"/><line x1="26.7" y1="34.3" x2="26.8" y2="36.5" stroke="#4f544f" stroke-width="0.7"/><line x1="28.1" y1="64.6" x2="28.3" y2="67.2" stroke="#8e938e" stroke-width="0.7"/><line x1="22.0" y1="16.1" x2="22.3" y2="13.8" stroke="#656a65" stroke-width="0.7"/><line x1="46.1" y1="33.3" x2="47.3" y2="32.7" stroke="#656a65" stroke-width="0.7"/><line x1="50.8" y1="20.0" x2="52.5" y2="18.6" stroke="#656a65" stroke-width="0.7"/><line x1="18.5" y1="25.6" x2="17.6" y2="23.5" stroke="#8e938e" stroke-width="0.7"/><line x1="17.0" y1="37.9" x2="15.4" y2="36.9" stroke="#ffffff" stroke-width="0.7"/><line x1="12.7" y1="35.2" x2="10.6" y2="34.4" stroke="#ffffff" stroke-width="0.7"/><line x1="43.1" y1="26.2" x2="44.3" y2="25.4" stroke="#4f544f" stroke-width="0.7"/><line x1="56.2" y1="43.2" x2="57.7" y2="43.6" stroke="#7c817c" stroke-width="0.7"/><line x1="40.4" y1="25.8" x2="40.7" y2="24.1" stroke="#7c817c" stroke-width="0.7"/><line x1="43.4" y1="36.7" x2="45.1" y2="35.1" stroke="#4f544f" stroke-width="0.7"/><line x1="24.3" y1="37.0" x2="21.8" y2="36.4" stroke="#ffffff" stroke-width="0.7"/><line x1="59.0" y1="33.8" x2="60.7" y2="32.3" stroke="#4f544f" stroke-width="0.7"/><line x1="42.9" y1="58.9" x2="43.9" y2="59.4" stroke="#656a65" stroke-width="0.7"/><line x1="56.2" y1="48.9" x2="58.3" y2="48.6" stroke="#ffffff" stroke-width="0.7"/><line x1="42.8" y1="38.9" x2="44.0" y2="38.3" stroke="#ffffff" stroke-width="0.7"/><line x1="10.9" y1="29.4" x2="9.3" y2="29.1" stroke="#8e938e" stroke-width="0.7"/><line x1="52.1" y1="38.0" x2="53.8" y2="37.8" stroke="#4f544f" stroke-width="0.7"/><line x1="50.5" y1="38.4" x2="52.4" y2="38.6" stroke="#4f544f" stroke-width="0.7"/><line x1="37.4" y1="43.4" x2="39.0" y2="43.3" stroke="#ffffff" stroke-width="0.7"/><line x1="27.8" y1="66.4" x2="27.9" y2="67.5" stroke="#7c817c" stroke-width="0.7"/><line x1="45.8" y1="27.3" x2="46.4" y2="26.2" stroke="#ffffff" stroke-width="0.7"/><line x1="30.4" y1="57.2" x2="30.5" y2="58.7" stroke="#8e938e" stroke-width="0.7"/><line x1="35.0" y1="48.5" x2="35.2" y2="50.4" stroke="#8e938e" stroke-width="0.7"/><line x1="23.9" y1="20.6" x2="24.0" y2="18.3" stroke="#7c817c" stroke-width="0.7"/><line x1="60.3" y1="38.6" x2="61.5" y2="38.0" stroke="#656a65" stroke-width="0.7"/><line x1="41.1" y1="58.4" x2="42.3" y2="59.1" stroke="#656a65" stroke-width="0.7"/><line x1="51.4" y1="12.4" x2="52.7" y2="10.6" stroke="#656a65" stroke-width="0.7"/><line x1="50.1" y1="41.2" x2="52.2" y2="42.1" stroke="#4f544f" stroke-width="0.7"/><line x1="44.9" y1="22.7" x2="46.2" y2="21.5" stroke="#4f544f" stroke-width="0.7"/><line x1="24.0" y1="61.9" x2="23.1" y2="63.4" stroke="#8e938e" stroke-width="0.7"/><line x1="43.0" y1="50.4" x2="44.2" y2="51.8" stroke="#8e938e" stroke-width="0.7"/><line x1="5.0" y1="40.8" x2="3.6" y2="40.9" stroke="#ffffff" stroke-width="0.7"/><line x1="42.7" y1="32.2" x2="44.5" y2="30.7" stroke="#ffffff" stroke-width="0.7"/><line x1="38.3" y1="38.1" x2="39.8" y2="37.2" stroke="#656a65" stroke-width="0.7"/><line x1="54.5" y1="7.1" x2="54.8" y2="5.6" stroke="#656a65" stroke-width="0.7"/><line x1="35.8" y1="64.5" x2="35.8" y2="65.9" stroke="#656a65" stroke-width="0.7"/><line x1="34.9" y1="22.4" x2="34.7" y2="24.3" stroke="#8e938e" stroke-width="0.7"/><line x1="41.7" y1="13.6" x2="42.3" y2="11.3" stroke="#ffffff" stroke-width="0.7"/><line x1="40.7" y1="14.7" x2="42.2" y2="12.8" stroke="#ffffff" stroke-width="0.7"/><line x1="57.3" y1="17.7" x2="58.5" y2="16.2" stroke="#8e938e" stroke-width="0.7"/><line x1="23.3" y1="25.7" x2="22.9" y2="24.7" stroke="#7c817c" stroke-width="0.7"/><line x1="21.8" y1="50.8" x2="20.7" y2="52.8" stroke="#4f544f" stroke-width="0.7"/><line x1="38.9" y1="58.1" x2="40.3" y2="59.4" stroke="#7c817c" stroke-width="0.7"/><line x1="17.4" y1="40.1" x2="15.5" y2="40.1" stroke="#ffffff" stroke-width="0.7"/><line x1="27.5" y1="66.2" x2="27.6" y2="67.8" stroke="#8e938e" stroke-width="0.7"/><line x1="3.9" y1="39.5" x2="2.2" y2="39.3" stroke="#8e938e" stroke-width="0.7"/><line x1="46.0" y1="25.7" x2="46.4" y2="24.6" stroke="#ffffff" stroke-width="0.7"/><line x1="29.7" y1="18.1" x2="30.1" y2="20.2" stroke="#7c817c" stroke-width="0.7"/><line x1="54.1" y1="34.3" x2="55.5" y2="34.2" stroke="#8e938e" stroke-width="0.7"/><line x1="36.9" y1="59.7" x2="38.2" y2="61.7" stroke="#4f544f" stroke-width="0.7"/><line x1="35.8" y1="60.3" x2="37.2" y2="62.1" stroke="#ffffff" stroke-width="0.7"/><line x1="22.7" y1="29.8" x2="22.2" y2="28.4" stroke="#656a65" stroke-width="0.7"/><line x1="16.9" y1="56.9" x2="15.7" y2="57.4" stroke="#4f544f" stroke-width="0.7"/><line x1="55.9" y1="23.8" x2="56.5" y2="22.5" stroke="#656a65" stroke-width="0.7"/><line x1="21.4" y1="23.5" x2="20.8" y2="22.4" stroke="#ffffff" stroke-width="0.7"/><line x1="31.1" y1="12.7" x2="30.8" y2="11.0" stroke="#8e938e" stroke-width="0.7"/><line x1="6.7" y1="44.6" x2="4.3" y2="45.0" stroke="#4f544f" stroke-width="0.7"/><line x1="57.1" y1="35.7" x2="58.5" y2="36.0" stroke="#4f544f" stroke-width="0.7"/><line x1="36.7" y1="24.3" x2="37.1" y2="26.3" stroke="#656a65" stroke-width="0.7"/><line x1="16.4" y1="48.9" x2="14.2" y2="50.2" stroke="#ffffff" stroke-width="0.7"/><line x1="35.6" y1="55.6" x2="35.9" y2="56.9" stroke="#7c817c" stroke-width="0.7"/><line x1="31.4" y1="52.6" x2="31.3" y2="55.1" stroke="#ffffff" stroke-width="0.7"/><line x1="41.8" y1="15.8" x2="42.8" y2="14.5" stroke="#656a65" stroke-width="0.7"/><line x1="23.6" y1="44.2" x2="22.2" y2="44.5" stroke="#4f544f" stroke-width="0.7"/><line x1="49.1" y1="59.5" x2="51.1" y2="60.2" stroke="#4f544f" stroke-width="0.7"/><line x1="40.2" y1="57.0" x2="42.0" y2="58.4" stroke="#ffffff" stroke-width="0.7"/><line x1="49.2" y1="26.2" x2="50.2" y2="25.8" stroke="#8e938e" stroke-width="0.7"/><line x1="22.5" y1="25.7" x2="20.4" y2="24.3" stroke="#ffffff" stroke-width="0.7"/><line x1="47.9" y1="57.0" x2="48.5" y2="58.1" stroke="#4f544f" stroke-width="0.7"/><line x1="25.7" y1="61.7" x2="25.0" y2="63.6" stroke="#656a65" stroke-width="0.7"/><line x1="26.1" y1="17.1" x2="25.9" y2="19.0" stroke="#8e938e" stroke-width="0.7"/><line x1="27.4" y1="54.4" x2="27.0" y2="56.3" stroke="#8e938e" stroke-width="0.7"/><line x1="49.5" y1="17.4" x2="50.2" y2="16.0" stroke="#4f544f" stroke-width="0.7"/><line x1="54.5" y1="15.5" x2="55.0" y2="14.7" stroke="#656a65" stroke-width="0.7"/><line x1="22.2" y1="30.1" x2="21.3" y2="28.2" stroke="#656a65" stroke-width="0.7"/><line x1="20.4" y1="59.7" x2="19.0" y2="61.0" stroke="#ffffff" stroke-width="0.7"/><line x1="35.7" y1="35.1" x2="35.5" y2="36.2" stroke="#8e938e" stroke-width="0.7"/><line x1="34.9" y1="44.2" x2="35.0" y2="45.6" stroke="#7c817c" stroke-width="0.7"/><line x1="19.9" y1="38.7" x2="17.6" y2="38.1" stroke="#8e938e" stroke-width="0.7"/><line x1="43.9" y1="41.4" x2="45.7" y2="41.9" stroke="#4f544f" stroke-width="0.7"/><line x1="48.4" y1="38.9" x2="49.5" y2="38.9" stroke="#656a65" stroke-width="0.7"/><line x1="48.5" y1="45.5" x2="49.7" y2="45.4" stroke="#8e938e" stroke-width="0.7"/><line x1="17.1" y1="28.0" x2="16.2" y2="27.5" stroke="#7c817c" stroke-width="0.7"/><line x1="45.3" y1="60.2" x2="46.4" y2="61.0" stroke="#7c817c" stroke-width="0.7"/><line x1="55.3" y1="52.2" x2="56.2" y2="52.6" stroke="#656a65" stroke-width="0.7"/><line x1="5.3" y1="34.1" x2="3.2" y2="33.1" stroke="#ffffff" stroke-width="0.7"/><line x1="33.1" y1="40.2" x2="33.4" y2="41.6" stroke="#8e938e" stroke-width="0.7"/><line x1="35.7" y1="14.9" x2="35.6" y2="17.2" stroke="#8e938e" stroke-width="0.7"/><line x1="50.8" y1="13.7" x2="51.3" y2="12.5" stroke="#ffffff" stroke-width="0.7"/><line x1="7.7" y1="30.3" x2="6.0" y2="30.0" stroke="#ffffff" stroke-width="0.7"/><line x1="52.6" y1="14.5" x2="53.0" y2="13.1" stroke="#656a65" stroke-width="0.7"/><line x1="34.6" y1="60.0" x2="34.5" y2="61.4" stroke="#8e938e" stroke-width="0.7"/><line x1="12.2" y1="28.6" x2="10.4" y2="27.4" stroke="#7c817c" stroke-width="0.7"/><line x1="14.5" y1="42.2" x2="13.4" y2="42.2" stroke="#4f544f" stroke-width="0.7"/><line x1="49.8" y1="9.1" x2="50.7" y2="6.8" stroke="#ffffff" stroke-width="0.7"/><line x1="35.0" y1="25.1" x2="34.5" y2="26.7" stroke="#ffffff" stroke-width="0.7"/><line x1="45.7" y1="13.0" x2="47.2" y2="11.0" stroke="#4f544f" stroke-width="0.7"/><line x1="14.3" y1="40.7" x2="12.9" y2="40.6" stroke="#ffffff" stroke-width="0.7"/><line x1="28.2" y1="50.1" x2="27.8" y2="52.6" stroke="#ffffff" stroke-width="0.7"/><line x1="52.8" y1="19.9" x2="54.2" y2="18.9" stroke="#4f544f" stroke-width="0.7"/><line x1="29.5" y1="26.3" x2="30.0" y2="28.0" stroke="#8e938e" stroke-width="0.7"/>
<line x1="24.3" y1="65.8" x2="24.3" y2="67.9" stroke="#6a6f6a" stroke-width="0.7"/><line x1="6.1" y1="51.3" x2="2.9" y2="53.1" stroke="#6a6f6a" stroke-width="0.7"/><line x1="17.7" y1="63.2" x2="16.4" y2="65.4" stroke="#6a6f6a" stroke-width="0.7"/><line x1="57.9" y1="54.9" x2="60.0" y2="56.4" stroke="#6a6f6a" stroke-width="0.7"/><line x1="20.5" y1="64.6" x2="19.4" y2="66.3" stroke="#6a6f6a" stroke-width="0.7"/><line x1="50.2" y1="62.1" x2="51.2" y2="64.4" stroke="#6a6f6a" stroke-width="0.7"/><line x1="18.9" y1="63.8" x2="18.0" y2="65.3" stroke="#6a6f6a" stroke-width="0.7"/><line x1="4.2" y1="39.0" x2="2.7" y2="38.4" stroke="#6a6f6a" stroke-width="0.7"/><line x1="35.6" y1="66.9" x2="35.3" y2="69.6" stroke="#6a6f6a" stroke-width="0.7"/><line x1="62.0" y1="42.0" x2="64.5" y2="41.6" stroke="#6a6f6a" stroke-width="0.7"/><line x1="7.9" y1="54.5" x2="5.9" y2="55.8" stroke="#6a6f6a" stroke-width="0.7"/><line x1="41.6" y1="65.9" x2="42.9" y2="68.3" stroke="#6a6f6a" stroke-width="0.7"/><line x1="45.6" y1="64.5" x2="46.8" y2="67.5" stroke="#6a6f6a" stroke-width="0.7"/><line x1="4.5" y1="46.8" x2="1.4" y2="47.4" stroke="#6a6f6a" stroke-width="0.7"/><line x1="32.0" y1="67.0" x2="31.6" y2="68.6" stroke="#6a6f6a" stroke-width="0.7"/><line x1="4.0" y1="43.2" x2="2.2" y2="42.7" stroke="#6a6f6a" stroke-width="0.7"/><line x1="13.4" y1="60.4" x2="10.5" y2="63.3" stroke="#6a6f6a" stroke-width="0.7"/><line x1="41.7" y1="65.8" x2="42.3" y2="68.0" stroke="#6a6f6a" stroke-width="0.7"/><line x1="30.1" y1="66.9" x2="30.0" y2="68.3" stroke="#6a6f6a" stroke-width="0.7"/><line x1="35.8" y1="66.9" x2="36.7" y2="69.8" stroke="#6a6f6a" stroke-width="0.7"/><line x1="25.5" y1="66.2" x2="25.3" y2="69.1" stroke="#6a6f6a" stroke-width="0.7"/><line x1="57.7" y1="28.9" x2="60.2" y2="28.3" stroke="#6a6f6a" stroke-width="0.7"/><line x1="60.8" y1="34.8" x2="62.2" y2="34.0" stroke="#6a6f6a" stroke-width="0.7"/><line x1="16.7" y1="62.7" x2="15.1" y2="64.7" stroke="#6a6f6a" stroke-width="0.7"/><line x1="21.1" y1="64.8" x2="20.6" y2="67.2" stroke="#6a6f6a" stroke-width="0.7"/><line x1="49.1" y1="62.8" x2="50.0" y2="64.7" stroke="#6a6f6a" stroke-width="0.7"/><line x1="33.6" y1="67.0" x2="34.4" y2="70.3" stroke="#6a6f6a" stroke-width="0.7"/><line x1="47.4" y1="63.7" x2="48.8" y2="65.4" stroke="#6a6f6a" stroke-width="0.7"/><line x1="45.1" y1="64.7" x2="45.2" y2="66.3" stroke="#6a6f6a" stroke-width="0.7"/><line x1="4.2" y1="44.6" x2="2.7" y2="44.2" stroke="#6a6f6a" stroke-width="0.7"/><line x1="48.5" y1="63.1" x2="50.8" y2="65.3" stroke="#6a6f6a" stroke-width="0.7"/><line x1="20.1" y1="64.4" x2="18.3" y2="66.3" stroke="#6a6f6a" stroke-width="0.7"/><line x1="4.2" y1="38.7" x2="2.6" y2="38.1" stroke="#6a6f6a" stroke-width="0.7"/><line x1="53.5" y1="59.7" x2="55.3" y2="61.8" stroke="#6a6f6a" stroke-width="0.7"/><line x1="57.1" y1="55.9" x2="59.2" y2="56.9" stroke="#6a6f6a" stroke-width="0.7"/><line x1="17.9" y1="63.3" x2="16.7" y2="65.0" stroke="#6a6f6a" stroke-width="0.7"/><line x1="60.7" y1="49.3" x2="62.9" y2="50.1" stroke="#6a6f6a" stroke-width="0.7"/><line x1="60.9" y1="35.2" x2="62.8" y2="34.3" stroke="#6a6f6a" stroke-width="0.7"/><line x1="62.0" y1="42.7" x2="63.7" y2="43.1" stroke="#6a6f6a" stroke-width="0.7"/><line x1="61.0" y1="35.5" x2="62.4" y2="35.2" stroke="#6a6f6a" stroke-width="0.7"/><line x1="40.3" y1="66.2" x2="42.1" y2="69.3" stroke="#6a6f6a" stroke-width="0.7"/><line x1="35.0" y1="66.9" x2="34.3" y2="70.2" stroke="#6a6f6a" stroke-width="0.7"/><line x1="42.7" y1="65.5" x2="43.5" y2="67.3" stroke="#6a6f6a" stroke-width="0.7"/><line x1="56.4" y1="56.8" x2="58.2" y2="58.2" stroke="#6a6f6a" stroke-width="0.7"/><line x1="26.0" y1="66.3" x2="25.6" y2="69.2" stroke="#6a6f6a" stroke-width="0.7"/><line x1="4.3" y1="45.7" x2="2.8" y2="46.4" stroke="#6a6f6a" stroke-width="0.7"/><line x1="5.3" y1="49.5" x2="3.8" y2="50.1" stroke="#6a6f6a" stroke-width="0.7"/><line x1="11.7" y1="59.0" x2="9.9" y2="61.4" stroke="#6a6f6a" stroke-width="0.7"/><line x1="7.8" y1="29.6" x2="6.3" y2="28.5" stroke="#6a6f6a" stroke-width="0.7"/><line x1="31.0" y1="66.9" x2="30.8" y2="69.3" stroke="#6a6f6a" stroke-width="0.7"/><line x1="57.7" y1="28.9" x2="58.8" y2="27.6" stroke="#6a6f6a" stroke-width="0.7"/><line x1="61.5" y1="46.5" x2="64.7" y2="47.9" stroke="#6a6f6a" stroke-width="0.7"/><line x1="34.9" y1="66.9" x2="35.6" y2="69.1" stroke="#6a6f6a" stroke-width="0.7"/><line x1="13.0" y1="60.1" x2="11.4" y2="61.5" stroke="#6a6f6a" stroke-width="0.7"/><line x1="61.6" y1="46.1" x2="64.9" y2="46.9" stroke="#6a6f6a" stroke-width="0.7"/><line x1="30.6" y1="66.9" x2="30.6" y2="69.0" stroke="#6a6f6a" stroke-width="0.7"/><line x1="57.6" y1="55.3" x2="59.3" y2="55.9" stroke="#6a6f6a" stroke-width="0.7"/><line x1="4.1" y1="39.5" x2="0.9" y2="38.8" stroke="#6a6f6a" stroke-width="0.7"/><line x1="4.1" y1="43.7" x2="1.6" y2="44.1" stroke="#6a6f6a" stroke-width="0.7"/><line x1="61.8" y1="44.8" x2="63.9" y2="44.3" stroke="#6a6f6a" stroke-width="0.7"/><line x1="60.4" y1="33.7" x2="62.4" y2="33.8" stroke="#6a6f6a" stroke-width="0.7"/><line x1="57.8" y1="54.9" x2="59.1" y2="55.6" stroke="#6a6f6a" stroke-width="0.7"/><line x1="33.0" y1="67.0" x2="33.2" y2="68.8" stroke="#6a6f6a" stroke-width="0.7"/><line x1="11.7" y1="59.0" x2="10.4" y2="60.5" stroke="#6a6f6a" stroke-width="0.7"/><line x1="11.5" y1="58.8" x2="10.4" y2="60.9" stroke="#6a6f6a" stroke-width="0.7"/><line x1="16.7" y1="62.7" x2="16.0" y2="64.7" stroke="#6a6f6a" stroke-width="0.7"/><line x1="43.2" y1="65.4" x2="43.1" y2="68.6" stroke="#6a6f6a" stroke-width="0.7"/><line x1="61.2" y1="36.2" x2="64.3" y2="36.6" stroke="#6a6f6a" stroke-width="0.7"/><line x1="8.3" y1="55.1" x2="6.3" y2="56.5" stroke="#6a6f6a" stroke-width="0.7"/><line x1="14.6" y1="61.4" x2="13.1" y2="62.3" stroke="#6a6f6a" stroke-width="0.7"/><line x1="6.0" y1="51.1" x2="2.8" y2="52.8" stroke="#6a6f6a" stroke-width="0.7"/><line x1="57.8" y1="29.1" x2="60.9" y2="28.3" stroke="#6a6f6a" stroke-width="0.7"/><line x1="39.1" y1="66.4" x2="40.0" y2="68.2" stroke="#6a6f6a" stroke-width="0.7"/><line x1="7.7" y1="29.7" x2="5.7" y2="27.9" stroke="#6a6f6a" stroke-width="0.7"/><line x1="20.5" y1="64.5" x2="18.4" y2="67.0" stroke="#6a6f6a" stroke-width="0.7"/><line x1="51.0" y1="61.6" x2="53.0" y2="63.3" stroke="#6a6f6a" stroke-width="0.7"/><line x1="38.1" y1="66.6" x2="37.7" y2="69.1" stroke="#6a6f6a" stroke-width="0.7"/><line x1="4.9" y1="35.9" x2="3.1" y2="35.7" stroke="#6a6f6a" stroke-width="0.7"/><line x1="12.0" y1="59.2" x2="9.8" y2="62.0" stroke="#6a6f6a" stroke-width="0.7"/><line x1="53.5" y1="24.3" x2="54.8" y2="21.8" stroke="#6a6f6a" stroke-width="0.7"/><line x1="50.2" y1="62.1" x2="52.7" y2="65.5" stroke="#6a6f6a" stroke-width="0.7"/><line x1="60.6" y1="34.3" x2="62.9" y2="33.1" stroke="#6a6f6a" stroke-width="0.7"/><line x1="7.9" y1="29.4" x2="6.5" y2="28.4" stroke="#6a6f6a" stroke-width="0.7"/><line x1="25.3" y1="66.1" x2="24.4" y2="67.6" stroke="#6a6f6a" stroke-width="0.7"/><line x1="4.7" y1="47.4" x2="3.0" y2="47.6" stroke="#6a6f6a" stroke-width="0.7"/><line x1="11.5" y1="58.8" x2="10.0" y2="60.6" stroke="#6a6f6a" stroke-width="0.7"/><line x1="13.2" y1="60.3" x2="11.9" y2="62.2" stroke="#6a6f6a" stroke-width="0.7"/><line x1="54.9" y1="58.4" x2="55.7" y2="59.7" stroke="#6a6f6a" stroke-width="0.7"/><line x1="24.9" y1="66.0" x2="23.3" y2="68.7" stroke="#6a6f6a" stroke-width="0.7"/><line x1="37.9" y1="66.6" x2="38.3" y2="68.2" stroke="#6a6f6a" stroke-width="0.7"/><line x1="6.9" y1="31.1" x2="5.0" y2="30.2" stroke="#6a6f6a" stroke-width="0.7"/><line x1="5.5" y1="49.8" x2="4.2" y2="50.7" stroke="#6a6f6a" stroke-width="0.7"/><line x1="59.9" y1="51.4" x2="62.1" y2="53.1" stroke="#6a6f6a" stroke-width="0.7"/><line x1="59.9" y1="51.3" x2="61.3" y2="52.1" stroke="#6a6f6a" stroke-width="0.7"/><line x1="17.5" y1="63.1" x2="16.6" y2="65.8" stroke="#6a6f6a" stroke-width="0.7"/><line x1="25.7" y1="66.2" x2="25.8" y2="68.7" stroke="#6a6f6a" stroke-width="0.7"/><line x1="34.3" y1="67.0" x2="33.5" y2="70.3" stroke="#6a6f6a" stroke-width="0.7"/><line x1="9.6" y1="27.2" x2="8.2" y2="25.8" stroke="#6a6f6a" stroke-width="0.7"/><line x1="39.6" y1="66.3" x2="40.9" y2="69.6" stroke="#6a6f6a" stroke-width="0.7"/><line x1="13.8" y1="60.8" x2="12.6" y2="62.3" stroke="#6a6f6a" stroke-width="0.7"/><line x1="5.8" y1="33.3" x2="3.1" y2="32.3" stroke="#6a6f6a" stroke-width="0.7"/><line x1="43.9" y1="65.2" x2="45.1" y2="68.1" stroke="#6a6f6a" stroke-width="0.7"/><line x1="61.9" y1="44.2" x2="64.5" y2="44.1" stroke="#6a6f6a" stroke-width="0.7"/><line x1="4.1" y1="39.8" x2="1.6" y2="38.9" stroke="#6a6f6a" stroke-width="0.7"/><line x1="13.2" y1="60.2" x2="11.7" y2="62.9" stroke="#6a6f6a" stroke-width="0.7"/><line x1="44.0" y1="65.1" x2="44.3" y2="67.6" stroke="#6a6f6a" stroke-width="0.7"/><line x1="5.9" y1="33.1" x2="2.7" y2="32.0" stroke="#6a6f6a" stroke-width="0.7"/><line x1="42.0" y1="65.8" x2="42.7" y2="67.7" stroke="#6a6f6a" stroke-width="0.7"/><line x1="4.8" y1="47.8" x2="1.9" y2="49.2" stroke="#6a6f6a" stroke-width="0.7"/><line x1="62.0" y1="40.8" x2="64.0" y2="40.2" stroke="#6a6f6a" stroke-width="0.7"/><line x1="55.1" y1="25.8" x2="57.4" y2="24.2" stroke="#6a6f6a" stroke-width="0.7"/><line x1="62.0" y1="41.9" x2="63.9" y2="41.3" stroke="#6a6f6a" stroke-width="0.7"/><line x1="8.9" y1="55.9" x2="7.6" y2="56.3" stroke="#6a6f6a" stroke-width="0.7"/><line x1="61.7" y1="38.4" x2="64.3" y2="38.1" stroke="#6a6f6a" stroke-width="0.7"/><line x1="55.5" y1="57.8" x2="57.1" y2="59.0" stroke="#6a6f6a" stroke-width="0.7"/><line x1="59.9" y1="51.4" x2="62.0" y2="52.8" stroke="#6a6f6a" stroke-width="0.7"/><line x1="58.7" y1="30.4" x2="60.2" y2="29.3" stroke="#6a6f6a" stroke-width="0.7"/><line x1="45.1" y1="64.7" x2="45.4" y2="67.4" stroke="#6a6f6a" stroke-width="0.7"/><line x1="4.8" y1="36.3" x2="3.3" y2="35.9" stroke="#6a6f6a" stroke-width="0.7"/><line x1="19.0" y1="63.9" x2="17.9" y2="65.7" stroke="#6a6f6a" stroke-width="0.7"/><line x1="11.4" y1="25.4" x2="8.7" y2="23.5" stroke="#6a6f6a" stroke-width="0.7"/><line x1="4.2" y1="44.9" x2="2.0" y2="44.4" stroke="#6a6f6a" stroke-width="0.7"/><line x1="35.9" y1="66.9" x2="35.5" y2="70.0" stroke="#6a6f6a" stroke-width="0.7"/><line x1="4.8" y1="47.7" x2="1.9" y2="47.8" stroke="#6a6f6a" stroke-width="0.7"/><line x1="58.1" y1="54.6" x2="59.5" y2="55.8" stroke="#6a6f6a" stroke-width="0.7"/><line x1="5.1" y1="35.2" x2="2.6" y2="34.4" stroke="#6a6f6a" stroke-width="0.7"/><line x1="59.5" y1="31.8" x2="60.7" y2="31.0" stroke="#6a6f6a" stroke-width="0.7"/>
<g fill="none" stroke="#3a3e3a" stroke-linecap="round">
<path d="M10,4 L12,23" stroke-width="1.4"/>
<path d="M15,4 L24,17" stroke-width="1.6"/>
<path d="M57,3 L56,26" stroke-width="1.8"/>
<path d="M52,13 L55,24 L57,27" stroke-width="2.6"/>
<path d="M57,3 L47,12" stroke-width="1"/>
<path d="M12,35 L18,34 L25,37" stroke-width="2.6"/>
<path d="M35,36 L41,35 L46,36" stroke-width="2.6"/>
<path d="M13,48 L22,47" stroke-width="1.6"/>
<path d="M38,47 L44,45" stroke-width="1.6"/>
<path d="M43,18 L46,20" stroke-width="1.6"/>
</g>
<path d="M27,56 L34,56 L30.5,63 Z" fill="#1a1a1a"/>
</g>
</svg>
</body></html>
